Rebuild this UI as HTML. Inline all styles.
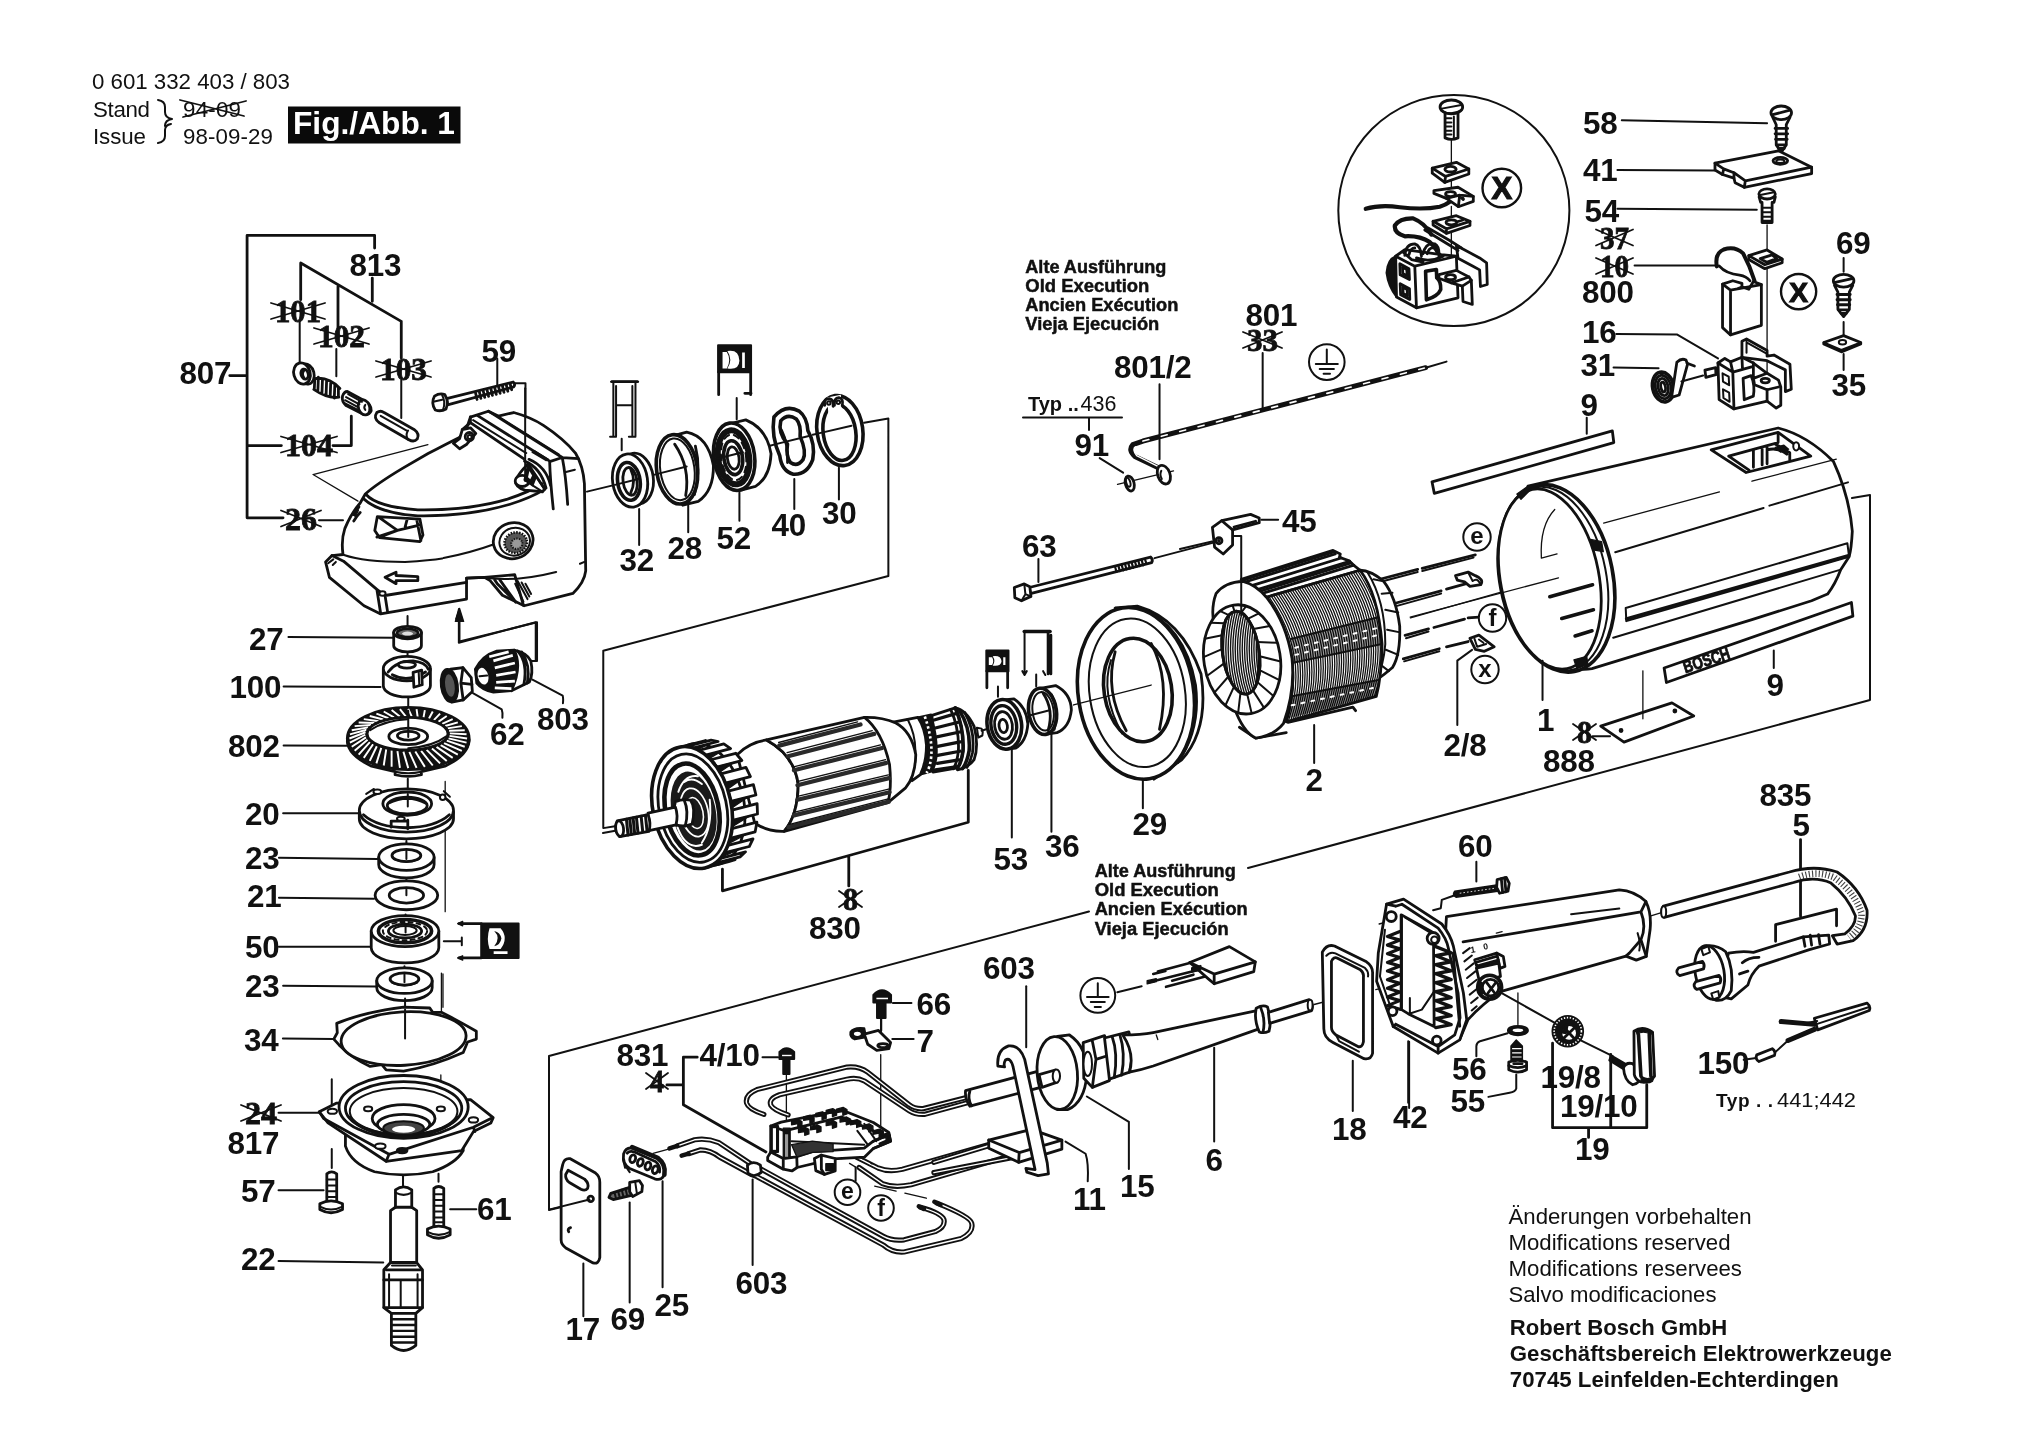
<!DOCTYPE html>
<html><head><meta charset="utf-8"><title>Fig./Abb. 1</title>
<style>
html,body{margin:0;padding:0;background:#fff;}
body{width:2042px;height:1444px;overflow:hidden;font-family:"Liberation Sans",sans-serif;}
svg{display:block;position:absolute;left:0;top:0;filter:blur(0.7px);}
svg text{font-family:"Liberation Sans",sans-serif;fill:#111;}
.b{font-weight:bold;font-size:31.4px;letter-spacing:-0.2px;}
.sb{font-family:"Liberation Serif",serif;font-weight:bold;font-size:31.5px;stroke:#111;stroke-width:0.8px;}
.s{stroke:#111;fill:none;stroke-linecap:round;stroke-linejoin:round;vector-effect:non-scaling-stroke;}
.f{stroke:#111;fill:#fff;stroke-linecap:round;stroke-linejoin:round;vector-effect:non-scaling-stroke;}
.k{stroke:#111;fill:#111;stroke-linejoin:round;vector-effect:non-scaling-stroke;}
.w1{stroke-width:1.3}.w2{stroke-width:2}.w3{stroke-width:2.8}.w4{stroke-width:3.6}
.x{stroke:#111;stroke-width:1.8;fill:none;stroke-linecap:round;}
</style></head><body>
<svg width="2042" height="1444" viewBox="0 0 2042 1444">
<rect x="0" y="0" width="2042" height="1444" fill="#fff"/>
<!-- 10_topleft.svg -->
<!-- brackets 807 / 813 (zoom1 coords, factor 3.003) -->
<g transform="scale(0.333)">
<path class="s w3" d="M742 1555 V707 H1125 V745 M1118 835 V905 M690 1128 H742 M742 1338 H845 M1000 1338 H1055 V1250 M742 1555 H850"/>
<path class="s w3" d="M903 790 L1205 965 M903 790 V900 M1015 860 V985 M1205 965 V1075"/>
<path class="s w2" d="M900 968 V1090 M1010 1048 V1130 M1205 1142 V1255 M958 1562 H1030"/>
<path class="s w1" d="M1285 1335 L940 1425 L1075 1505"/>
</g>
<!-- zoom2 coords -->
<g transform="translate(200,330) scale(0.25628)">
<!-- part 101 -->
<ellipse cx="415" cy="172" rx="30" ry="40" class="f w3" transform="rotate(-15 415 172)"/>
<ellipse cx="398" cy="170" rx="32" ry="42" class="f w3" transform="rotate(-15 398 170)"/>
<ellipse cx="408" cy="172" rx="14" ry="20" class="f w3" transform="rotate(-15 408 172)"/>
<path class="s w3" d="M405 158 q-10 12 0 28"/>
<!-- spring 102 -->
<path class="s w3" d="M448 190 l-2 40 M462 184 l-2 52 M478 190 l-2 54 M494 198 l-2 54 M510 206 l-2 54 M526 216 l-2 50 M540 226 l0 36 M446 190 Q500 180 546 228 M444 232 Q500 270 542 262"/>
<!-- sleeve 104 -->
<path class="f w3" d="M575 240 L640 275 Q670 290 668 315 Q660 335 635 328 L570 295 Q552 280 556 258 Q562 240 575 240Z"/>
<ellipse cx="640" cy="302" rx="22" ry="30" class="f w3" transform="rotate(-20 640 302)"/>
<path class="s w2" d="M578 250 L632 280 M570 262 L622 290 M566 274 L618 302 M566 286 L620 314 M645 292 q-8 10 0 20"/>
<!-- pin 103 -->
<path class="f w3" d="M690 322 Q705 312 718 322 L835 388 Q858 405 848 425 Q835 440 815 428 L700 362 Q675 345 690 322Z"/>
<path class="s w2" d="M812 392 Q800 410 812 428 M705 335 L810 395"/>
<!-- screw 59 -->
<path class="f w3" d="M962 268 L1222 203 Q1232 212 1224 222 L966 292Z"/>
<path class="s w3" d="M1075 245 l6 26 M1090 241 l6 26 M1105 237 l6 26 M1120 233 l6 26 M1135 229 l6 26 M1150 225 l6 26 M1165 221 l6 26 M1180 217 l6 26 M1195 213 l6 26 M1210 209 l6 24"/>
<path class="f w3" d="M915 258 Q935 245 955 252 Q972 280 960 308 Q940 320 918 312 Q900 285 915 258Z"/>
<path class="s w2" d="M910 280 L945 272 M945 255 Q960 282 948 312"/>
<path class="s w2" d="M1160 112 V215 M1228 208 H1270 V585"/>
</g>
<!-- 11_gearhousing.svg -->
<g transform="translate(200,330) scale(0.25628)">
<!-- outer silhouette -->
<path class="f w3" d="M1055 340 L1125 317 L1164 336 L1224 322 Q1290 340 1340 372 Q1420 425 1465 480 Q1495 530 1500 600 L1505 940 Q1500 985 1455 1028 L1265 1076 L1180 1035 L1132 978 L1110 965 L1040 968 L1040 1050 L705 1108 L640 1076 L505 965 L490 905 L515 880 L558 876 Q550 820 565 775 Q590 715 625 675 L645 640 Q690 600 790 540 L890 482 Q960 445 1010 420 Q1035 405 1040 385 Z"/>
<!-- opening rim -->
<path class="s w3" d="M648 642 Q690 690 850 702 Q1050 705 1200 660 Q1290 630 1335 600"/>
<path class="s w3" d="M640 660 Q700 715 850 725 Q1050 728 1210 680 Q1290 655 1345 622"/>
<!-- front window -->
<path class="s w3" d="M692 728 L858 738 L870 800 L858 826 L700 810 L682 782 Z M700 732 L770 782 L690 808 M770 782 L860 760 M808 740 L800 770 M846 742 L862 822 M770 782 L700 808"/>
<!-- nose -->
<path class="s w3" d="M598 720 Q612 705 620 690 M600 745 Q612 725 625 712"/>
<path class="k w1" d="M600 722 l14 -22 l4 4 l-12 24z"/>
<!-- waist line dashed -->
<path class="s w2" d="M562 878 Q640 905 800 905 Q900 900 945 892" />
<path class="s w2" stroke-dasharray="60 22" d="M950 890 Q1060 868 1150 835"/>
<path class="s w2" stroke-dasharray="70 25" d="M1120 968 Q1260 985 1440 930 L1500 905"/>
<!-- threaded hole -->
<ellipse cx="1222" cy="822" rx="78" ry="70" class="f w3" transform="rotate(-15 1222 822)"/>
<ellipse cx="1228" cy="826" rx="60" ry="54" class="f w2" transform="rotate(-15 1228 826)"/>
<ellipse cx="1232" cy="830" rx="44" ry="40" fill="#555" stroke="#111" stroke-width="10" stroke-dasharray="6 5" transform="rotate(-15 1232 830)" style="vector-effect:none"/>
<ellipse cx="1236" cy="834" rx="22" ry="20" fill="#999" stroke="#111" stroke-width="8" stroke-dasharray="5 5" transform="rotate(-15 1236 834)"/>
<!-- base plate -->
<path class="s w3" d="M515 880 L560 902 L690 1012 L722 1036 L1040 985 M690 1012 L705 1106 M722 1036 L732 1100"/>
<path class="s w2" d="M500 910 L520 895 M530 905 l-12 12"/>
<ellipse cx="712" cy="1028" rx="12" ry="9" class="f w2"/>
<!-- arrow -->
<path class="s w3" d="M722 965 L765 945 L765 958 L850 962 L850 978 L765 978 L765 990 Z"/>
<!-- notch right -->
<path class="s w3" d="M1040 968 L1110 965 M1110 965 L1228 955 L1262 1074 M1170 975 L1232 1062 M1150 975 L1160 990 L1225 1055"/>
<path class="s w2" d="M1230 990 L1262 1060 M1240 980 L1278 1050 M1255 985 L1285 1040 M1270 990 L1292 1030"/>
<path class="s w2" d="M1010 1090 V1220 H1010 M1010 1220 L1310 1140 V1290" />
<path class="k w1" d="M1010 1088 l-12 40 h24z"/>
</g>
<g transform="translate(420,390) scale(0.09004)">
<path class="s w3" d="M560 300 L560 362 L470 440 M640 285 L1440 790 M760 235 L1580 750 L1760 762 M1440 795 L1580 750 M1440 795 Q1445 1000 1480 1320 M1580 750 Q1620 950 1640 1270 M560 362 L1150 762"/>
<path class="s w2" d="M590 335 L1180 700 M880 300 L1540 715 M1620 910 L1720 885 M1250 690 L1400 780 M1270 680 L1420 770"/>
<path class="f w3" d="M470 440 L440 540 L370 592 L440 652 L520 602 L620 482 L560 420Z"/>
<circle cx="548" cy="518" r="46" class="f w3"/><circle cx="552" cy="522" r="22" class="s w2"/>
<path class="s w3" d="M1160 790 Q1340 860 1400 1090 M1210 770 Q1400 850 1450 1060"/>
<path class="f w3" d="M1200 822 L1385 1100 L1360 1130 L1165 1112 Q1060 1080 1060 1010 Q1090 930 1200 822Z"/>
<ellipse cx="1135" cy="1010" rx="78" ry="62" class="f w3"/>
<path class="k w2" d="M1200 830 L1290 960 L1250 1060 L1160 1000Z"/><path d="M1215 900 l30 50 l-20 40 l-25 -20z" fill="#fff"/>
<path class="s w2" d="M1290 960 L1380 1098 M1250 1060 L1360 1128"/>
<path class="s w2" d="M1168 -20 V1010"/>
</g>
<!-- 12_bearings.svg -->
<g transform="translate(580,320) scale(0.19394)">
<!-- axis line + box line -->
<path class="s w2" d="M36 885 L180 850 M375 800 L405 792 M680 722 L700 717 M980 648 L1010 640 M1200 592 L1225 586 M1465 530 L1590 508 V1320 L120 1705 V2620 L180 2610"/>
<!-- seal symbol over 32 -->
<path class="s w2" d="M160 318 H300 M172 318 V600 M186 340 V600 M270 340 V600 M286 318 V600 M186 440 H270 M155 602 H186 M252 602 H286"/>
<path class="s w3" d="M165 318 H295"/>
<path class="s w2" d="M215 612 V672"/>
<!-- part 32 -->
<ellipse cx="290" cy="818" rx="88" ry="132" class="f w3" transform="rotate(-8 290 818)"/>
<ellipse cx="258" cy="828" rx="90" ry="138" class="f w3" transform="rotate(-8 258 828)"/>
<ellipse cx="252" cy="832" rx="58" ry="98" class="f w4" transform="rotate(-8 252 832)"/>
<ellipse cx="258" cy="832" rx="36" ry="72" class="f w3" transform="rotate(-8 258 832)"/>
<path class="s w2" d="M180 850 L300 820"/>
<path class="s w3" d="M262 770 Q290 830 262 890"/>
<!-- part 28 -->
<path class="f w3" d="M470 600 L550 578 Q660 600 688 750 Q690 880 610 935 L530 955Z"/>
<ellipse cx="500" cy="770" rx="105" ry="180" class="f w4" transform="rotate(-8 500 770)"/>
<ellipse cx="502" cy="770" rx="88" ry="160" class="f w2" transform="rotate(-8 502 770)"/>
<path class="s w3" d="M488 640 Q570 760 545 905 M595 650 Q625 770 590 900"/>
<path class="s w2" d="M405 792 L550 755"/>
<!-- part 52 -->
<path class="f w3" d="M770 535 L855 515 Q965 560 985 690 Q980 810 905 858 L820 880Z"/>
<ellipse cx="795" cy="705" rx="105" ry="175" class="f w4" transform="rotate(-8 795 705)"/>
<ellipse cx="792" cy="708" rx="80" ry="140" class="s" stroke-width="6" transform="rotate(-8 792 708)"/>
<ellipse cx="792" cy="708" rx="64" ry="118" class="s w2" stroke-dasharray="6 5" transform="rotate(-8 792 708)"/>
<ellipse cx="790" cy="710" rx="48" ry="88" class="f w4" transform="rotate(-8 790 710)"/>
<ellipse cx="790" cy="712" rx="30" ry="58" class="f w3" transform="rotate(-8 790 712)"/>
<path class="s w2" d="M700 717 L840 682"/>
<!-- bearing symbol over 52 -->
<rect x="712" y="130" width="170" height="140" class="k w2"/>
<path d="M735 165 h22 q25 40 0 85 h-22z M760 160 q60 -10 62 50 q-2 50 -62 40 q30 -45 0 -90z M836 168 h14 v80 h-14z" fill="#fff"/>
<path class="s w3" d="M715 270 V385 M880 270 V385 M850 378 H882"/>
<path class="s w2" d="M808 402 V512"/>
<!-- part 40 wavy washer -->
<path class="f w4" d="M1000 500 Q1060 430 1130 470 Q1170 500 1175 570 Q1215 640 1200 720 Q1170 800 1100 795 Q1040 780 1030 700 Q985 600 1000 500Z"/>
<path class="f w4" d="M1035 520 Q1070 480 1115 510 Q1140 540 1135 600 Q1170 680 1150 720 Q1120 760 1085 735 Q1060 700 1070 640 Q1020 580 1035 520Z"/>
<path class="s w3" d="M1040 570 Q1075 640 1070 735"/>
<path class="s w2" d="M1010 640 L1180 598"/>
<!-- part 30 circlip -->
<ellipse cx="1340" cy="570" rx="118" ry="182" class="f w4" transform="rotate(-8 1340 570)"/>
<ellipse cx="1338" cy="580" rx="84" ry="145" class="f w4" transform="rotate(-8 1338 580)"/>
<path d="M1275 400 L1345 385 L1350 470 L1280 480Z" fill="#fff" stroke="none"/>
<path class="f w3" d="M1262 440 Q1255 405 1285 405 Q1310 410 1305 445 M1312 440 Q1308 402 1335 400 Q1360 405 1352 442"/>
<circle cx="1283" cy="428" r="9" class="s w2"/><circle cx="1332" cy="424" r="9" class="s w2"/>
<path class="s w2" d="M1225 586 L1400 545"/>
<!-- leaders -->
<path class="s w2" d="M305 975 V1160 M558 955 V1095 M822 890 V1035 M1105 820 V975 M1335 762 V925"/>
</g>
<!-- 13_armature.svg -->
<g transform="translate(600,690) scale(0.19589)">
<!-- bracket -->
<path class="s w3" d="M625 915 V1025 L1880 675 V410 M1270 850 V1000"/>
<path class="s w2" d="M15 730 L78 718"/>
<!-- commutator end (zoom L coords nested) -->
<g transform="translate(1327.3,-255.2) scale(0.56552)">
<path class="f w3" d="M860 612 Q960 630 1030 780 Q1075 950 1030 1080 Q980 1150 880 1172 Z"/>
<path class="f w2" d="M1055 792 L1098 800 Q1115 830 1105 862 L1068 880Z"/>
<path class="s w4" d="M900 640 Q1000 800 985 1000 Q965 1110 925 1160"/>
<path class="s w3" d="M945 655 Q1042 820 1015 1020 Q995 1100 965 1150"/>
<path class="f w3" d="M650 680 L860 612 Q940 800 930 1000 Q915 1110 880 1155 L660 1192Z"/>
<path class="s" stroke-width="3.2" d="M662 724 L872 662 M680 794 L888 742 M692 874 L900 830 M700 960 L905 920 M700 1042 L902 1004 M698 1114 L892 1082 M680 1172 L880 1142"/>
<path class="s w4" d="M860 612 Q940 800 930 1000 Q915 1110 880 1155"/>
<path class="s w3" d="M818 626 Q898 800 888 1000 Q876 1110 843 1162"/>
<path class="k w2" d="M520 700 L642 672 Q705 900 690 1060 Q680 1140 645 1188 L545 1215 Q600 1100 600 950 Q585 800 520 700Z"/>
<path d="M585 690 Q658 900 642 1060 Q632 1150 600 1200" stroke="#fff" stroke-width="24" stroke-dasharray="22 24" fill="none"/>
<path class="f w3" d="M300 742 L522 698 Q590 800 600 950 Q600 1100 545 1215 L470 1270Z"/>
<path class="s w2" d="M430 715 Q500 850 500 1000 Q495 1150 460 1250"/>
</g>
<!-- right winding head -->
<path class="f w3" d="M1350 140 Q1440 138 1510 168 Q1590 210 1612 330 Q1610 440 1560 500 L1470 575Z"/>
<!-- left winding head -->
<path class="f w3" d="M700 330 Q760 270 850 255 Q990 330 1012 480 Q1010 640 940 722 Q860 725 790 680Z"/>
<!-- stack -->
<path class="f w3" d="M850 255 L1350 140 Q1440 210 1478 380 Q1490 500 1470 575 L940 722 Q1010 640 1012 480 Q990 330 850 255Z"/>
<path class="s" stroke-width="4.2" style="stroke:#2a2a2a" d="M915 284 L1330 176 M960 338 L1400 224 M990 410 L1440 296 M1008 486 L1462 372 M1008 560 L1476 450 M990 640 L1478 522 M962 700 L1474 570"/>
<path class="s w1" d="M912 268 L1315 163 M955 320 L1390 208 M988 393 L1432 280 M1006 468 L1458 355 M1008 543 L1472 433 M994 623 L1478 505 M968 686 L1476 554"/>
<!-- fan -->
<path class="f w3" d="M420 297 L436 287 L452 280 L469 275 L486 273 L503 273 L521 275 L539 280 L557 287 L575 296 L593 307 L610 321 L626 336 L642 354 L657 373 L671 393 L684 416 L695 439 L706 464 L715 489 L723 515 L730 542 L735 569 L738 596 L740 623 L740 650 L739 676 L736 702 L732 726 L726 750 L719 772 L710 793 L700 812 L689 830 L676 845 L662 859 L648 870 L632 880 L616 887 L599 892 L582 894 L565 894 L547 892 L483 908 L356 313 Z"/>
<path class="f w3" d="M378 301 L506 268 L539 258 L411 291 Z"/>
<path class="k w1" d="M411 291 L499 268 L432 289 Z"/>
<path class="f w3" d="M439 289 L567 256 L603 263 L475 296 Z"/>
<path class="k w1" d="M475 296 L563 273 L497 305 Z"/>
<path class="f w3" d="M504 308 L632 275 L667 299 L539 332 Z"/>
<path class="k w1" d="M539 332 L627 309 L559 349 Z"/>
<path class="f w3" d="M565 356 L693 323 L724 360 L596 393 Z"/>
<path class="k w1" d="M596 393 L684 370 L612 419 Z"/>
<path class="f w3" d="M617 428 L745 395 L768 442 L640 475 Z"/>
<path class="k w1" d="M640 475 L728 452 L651 506 Z"/>
<path class="f w3" d="M655 516 L783 483 L796 536 L668 569 Z"/>
<path class="k w1" d="M668 569 L756 546 L673 602 Z"/>
<path class="f w3" d="M674 613 L802 580 L804 633 L676 666 Z"/>
<path class="k w1" d="M676 666 L764 643 L675 698 Z"/>
<path class="f w3" d="M673 708 L801 675 L792 724 L664 757 Z"/>
<path class="k w1" d="M664 757 L752 734 L656 784 Z"/>
<path class="f w3" d="M653 793 L781 760 L762 799 L634 832 Z"/>
<path class="k w1" d="M634 832 L722 809 L620 853 Z"/>
<path class="f w3" d="M615 859 L743 826 L715 852 L587 885 Z"/>
<path class="k w1" d="M587 885 L675 862 L568 896 Z"/>
<path class="f w3" d="M562 899 L690 866 L657 876 L529 909 Z"/>
<path class="k w1" d="M529 909 L617 886 L508 911 Z"/>
<ellipse cx="470" cy="600" rx="200" ry="315" class="f w4" transform="rotate(-12 470 600)"/>
<ellipse cx="474" cy="603" rx="172" ry="280" class="f w3" transform="rotate(-12 474 603)"/>
<ellipse cx="470" cy="610" rx="135" ry="238" class="f" stroke-width="4.6" transform="rotate(-12 470 610)"/>
<ellipse cx="478" cy="618" rx="112" ry="205" fill="#1a1a1a" transform="rotate(-12 478 618)"/>
<path d="M400 520 Q430 430 500 440 M395 700 Q440 820 520 790 M520 780 Q575 700 560 560 M430 470 Q470 440 520 480" stroke="#fff" stroke-width="10" fill="none" stroke-linecap="round"/>
<ellipse cx="482" cy="625" rx="70" ry="125" fill="none" stroke="#fff" stroke-width="9" transform="rotate(-12 482 625)"/>
<ellipse cx="484" cy="628" rx="42" ry="80" fill="none" stroke="#fff" stroke-width="8" transform="rotate(-12 484 628)"/>
<!-- shaft -->
<path class="f w3" d="M385 570 Q420 555 462 562 Q490 600 470 685 Q430 700 392 690 Q365 640 385 570Z"/>
<path class="s w3" d="M430 562 Q455 620 435 695"/>
<path class="f w3" d="M245 628 L385 598 Q400 640 388 688 L250 718Z"/>
<path class="f w3" d="M88 668 L245 636 Q262 680 250 722 L100 748 Q70 710 88 668Z"/>
<ellipse cx="100" cy="708" rx="20" ry="40" class="f w3" transform="rotate(-8 100 708)"/>
<path class="s" stroke-width="3" d="M135 660 l8 80 M152 657 l8 80 M169 653 l8 80 M186 650 l8 80 M210 645 l8 78 M232 640 l8 78"/>
</g>
<!-- 14_stator.svg -->
<g transform="translate(1180,500) scale(0.18008)">
<defs><clipPath id="stbody"><path d="M480 540 L1000 390 Q1100 520 1122 800 Q1120 980 1090 1090 L590 1232 Q640 1060 622 880 Q590 680 480 540Z"/></clipPath></defs>
<path class="s w1" d="M1280 655 L1900 478"/>
<path class="s w3" d="M1110 440 L1320 385 M1345 380 L1640 305 M1200 572 L1450 505 M1480 495 L1600 462 M1250 752 L1380 716 M1410 708 L1580 662 M1600 655 L1660 650 M1240 882 L1440 826 M1480 816 L1600 786"/>
<path class="s w2" d="M1110 455 L1320 400 M1345 394 L1630 320 M1205 588 L1450 520 M1255 768 L1380 730 M1245 896 L1440 840"/>
<path class="f w3" d="M1530 420 L1600 400 L1640 420 Q1690 440 1670 470 L1610 480 L1580 455 L1540 445Z"/><path class="s w2" d="M1600 402 L1625 450 M1625 450 Q1650 430 1665 462"/>
<path class="f w3" d="M1610 768 L1660 750 L1745 815 L1690 840 L1640 830Z"/><path class="s w2" d="M1635 770 L1650 815 L1700 800 M1660 775 l25 18"/>
<path class="s w2" d="M1540 1250 V892 L1622 832 M745 1250 V1460"/>
<path class="f w3" d="M1000 390 Q1060 392 1130 450 Q1200 540 1220 700 Q1225 860 1180 930 Q1140 965 1090 1000 L1060 700Z"/>
<path class="s w2" d="M1075 440 L1130 452 M1120 520 L1180 515 M1140 610 L1212 625 M1150 720 L1222 735 M1140 830 L1212 860 M1120 920 L1160 950 M1040 400 Q1140 560 1140 800 Q1130 920 1090 1000"/>
<path class="f w3" d="M340 440 L850 280 L890 300 L885 318 L940 338 L962 360 L1000 390 L480 540 Z"/>
<path class="s w3" d="M352 458 L862 300 M385 480 L895 322 M430 498 L942 340 M452 520 L965 362"/>
<path class="s w3" d="M345 446 L855 288 M440 508 L950 350"/>
<path class="f w3" d="M480 540 L1000 390 Q1100 520 1122 800 Q1120 980 1090 1090 L590 1232 Q640 1060 622 880 Q590 680 480 540Z"/>
<g clip-path="url(#stbody)">
<path class="s" stroke-width="1.3" d="M480 540 Q710 866 590 1232 M493 536 Q723 862 602 1228 M506 532 Q736 859 615 1225 M519 529 Q748 855 628 1221 M532 525 Q761 851 640 1218 M545 521 Q774 848 652 1214 M558 518 Q786 844 665 1211 M571 514 Q799 840 678 1207 M584 510 Q812 837 690 1204 M597 506 Q825 833 702 1200 M610 502 Q838 830 715 1196 M623 499 Q850 826 728 1193 M636 495 Q863 822 740 1189 M649 491 Q876 819 752 1186 M662 488 Q888 815 765 1182 M675 484 Q901 811 778 1179 M688 480 Q914 808 790 1175 M701 476 Q927 804 802 1172 M714 472 Q940 800 815 1168 M727 469 Q952 797 828 1165 M740 465 Q965 793 840 1161 M753 461 Q978 789 852 1157 M766 458 Q990 786 865 1154 M779 454 Q1003 782 878 1150 M792 450 Q1016 778 890 1147 M805 446 Q1029 775 902 1143 M818 442 Q1042 771 915 1140 M831 439 Q1054 767 928 1136 M844 435 Q1067 764 940 1133 M857 431 Q1080 760 952 1129 M870 428 Q1092 756 965 1126 M883 424 Q1105 753 978 1122 M896 420 Q1118 749 990 1118 M909 416 Q1131 746 1002 1115 M922 412 Q1144 742 1015 1111 M935 409 Q1156 738 1028 1108 M948 405 Q1169 735 1040 1104 M961 401 Q1182 731 1052 1101 M974 398 Q1194 727 1065 1097 M987 394 Q1207 724 1078 1094 M1000 390 Q1220 720 1090 1090"/>
<path d="M615 772 L1112 648 L1122 800 L622 905Z" fill="#000" fill-opacity="0.38"/>
<path d="M606 1092 L1102 1000 L1092 1085 L592 1215Z" fill="#000" fill-opacity="0.38"/>
<path class="s w2" d="M615 772 L1112 648 M622 905 L1122 800 M606 1092 L1102 1000"/>
<path class="s w2" style="stroke:#fff" stroke-dasharray="3 7" d="M640 820 L1100 710 M640 860 L1100 750 M620 1140 L1090 1040"/>
</g>
<path class="s w3" d="M330 1262 L420 1322 L590 1292 M380 1240 L440 1290 M600 1235 L960 1150 L975 1170"/>
<path class="f w3" d="M350 452 Q250 455 200 520 Q170 600 190 700 L300 1150 Q350 1290 420 1322 Q520 1310 575 1240 Q640 1060 622 880 Q590 680 480 540 Q420 470 350 452Z"/>
<ellipse cx="345" cy="885" rx="212" ry="305" class="f w3" transform="rotate(-9 345 885)"/>
<path class="s w2" d="M559 897 L443 868 M552 1000 L442 945 M519 1089 L429 1011 M466 1153 L405 1057 M398 1185 L373 1077 M323 1181 L336 1070 M252 1141 L300 1036 M191 1070 L269 980 M149 977 L245 907 M131 873 L233 828 M138 770 L234 751 M171 681 L247 685 M224 617 L271 639 M292 585 L303 619 M367 589 L340 626 M438 629 L376 660 M499 700 L407 716 M541 793 L431 789"/>
<defs><clipPath id="stopen"><ellipse cx="338" cy="848" rx="102" ry="232" transform="rotate(-8 338 848)"/></clipPath></defs>
<ellipse cx="338" cy="848" rx="102" ry="232" class="f w3" transform="rotate(-8 338 848)"/>
<g clip-path="url(#stopen)"><path class="s" stroke-width="1.4" d="M260 600 Q190 850 275 1100 M273 600 Q203 850 288 1100 M286 600 Q216 850 301 1100 M299 600 Q229 850 314 1100 M312 600 Q242 850 327 1100 M325 600 Q255 850 340 1100 M338 600 Q268 850 353 1100 M351 600 Q281 850 366 1100 M364 600 Q294 850 379 1100 M377 600 Q307 850 392 1100 M390 600 Q320 850 405 1100 M403 600 Q333 850 418 1100 M416 600 Q346 850 431 1100 M429 600 Q359 850 444 1100 M442 600 Q372 850 457 1100 M455 600 Q385 850 470 1100 M468 600 Q398 850 483 1100"/><path class="f w2" d="M395 600 Q470 850 410 1100 L520 1100 L520 600Z"/></g>
<ellipse cx="338" cy="848" rx="102" ry="232" class="s w3" transform="rotate(-8 338 848)"/>
<path class="f w3" d="M180 152 L232 115 L392 80 L440 100 L440 126 L292 166 L292 250 L240 300 L192 262Z"/>
<path class="s w3" d="M232 115 L292 166 M300 150 L420 118"/><circle cx="216" cy="226" r="17" class="f w3"/><circle cx="216" cy="226" r="6" class="k w1"/>
<path class="s w2" d="M452 110 H545 M300 200 H340 V640 M0 272 L178 230"/>
</g>
<!-- 15_baffle.svg -->
<g transform="translate(960,480) scale(0.27706)">
<!-- bolt 63 -->
<path class="f w3" d="M250 388 L688 278 Q698 288 692 298 L254 410Z"/>
<path class="s" stroke-width="2.2" d="M560 314 l5 18 M572 311 l5 18 M584 308 l5 18 M596 305 l5 18 M608 302 l5 18 M620 299 l5 18 M632 296 l5 18 M644 293 l5 18 M656 290 l5 18 M668 287 l5 16"/>
<path class="f w3" d="M196 388 L232 375 L252 385 L256 420 L222 436 L198 425Z"/>
<path class="s w2" d="M232 375 L236 412 L222 436 M236 412 L256 420"/>
<path class="s w2" d="M283 285 V368 M702 282 L915 226"/>
<!-- baffle 29 -->
<path class="f w3" d="M560 462 L640 455 Q800 500 870 700 Q900 900 800 1010 L700 1080Z"/>
<path class="s w3" d="M612 462 Q790 520 825 740 Q845 900 760 1030 M640 458 Q810 520 850 740 Q870 900 785 1020"/>
<ellipse cx="635" cy="770" rx="208" ry="312" class="f w4" transform="rotate(-9 635 770)"/>
<ellipse cx="640" cy="768" rx="172" ry="270" class="f w2" transform="rotate(-9 640 768)"/>
<ellipse cx="642" cy="758" rx="122" ry="188" class="f w4" transform="rotate(-9 642 758)"/>
<path class="s w3" d="M560 620 Q520 760 600 905 M690 590 Q760 720 720 900"/>
<path class="s w2" d="M545 650 Q505 770 585 915"/>
<path class="s w1" d="M410 812 L690 740"/>
<path class="s w2" d="M660 1078 V1185"/>
<!-- ring 36 -->
<path class="f w3" d="M290 752 L345 742 Q400 770 402 830 Q395 895 350 912 L305 918Z"/>
<ellipse cx="298" cy="835" rx="50" ry="84" class="f w4" transform="rotate(-8 298 835)"/>
<ellipse cx="300" cy="835" rx="38" ry="70" class="f w2" transform="rotate(-8 300 835)"/>
<path class="s w3" d="M300 770 Q340 830 318 905 M330 775 Q360 835 340 900"/>
<path class="s w2" d="M250 850 L320 832 M330 915 V1270"/>
<!-- seal symbol over 36 -->
<path class="s w4" d="M232 547 H325"/>
<path class="s w2" d="M233 547 V700 M225 690 l8 14 l8 -14 M275 702 V745 M300 690 l8 14"/>
<path class="s w3" d="M318 547 V700 M328 560 V700"/>
<!-- bearing 53 -->
<path class="f w3" d="M150 795 L195 790 Q240 820 245 880 Q240 945 200 968 L165 972Z"/>
<ellipse cx="160" cy="882" rx="62" ry="90" class="f w4" transform="rotate(-8 160 882)"/>
<ellipse cx="158" cy="884" rx="46" ry="70" class="s" stroke-width="3.4" transform="rotate(-8 158 884)"/>
<ellipse cx="157" cy="886" rx="32" ry="50" class="f w3" transform="rotate(-8 157 886)"/>
<ellipse cx="156" cy="888" rx="15" ry="24" class="f w3" transform="rotate(-8 156 888)"/>
<path class="s w2" d="M187 972 V1290 M137 745 V782 M78 905 L100 898"/>
<!-- bearing symbol over 53 -->
<rect x="95" y="615" width="80" height="75" class="k w2"/>
<path d="M104 640 h12 q8 14 0 28 h-12z M118 636 q30 -4 32 18 q-2 20 -32 16 q12 -17 0 -34z M156 640 h8 v28 h-8z" fill="#fff"/>
<path class="s w3" d="M97 690 V750 M172 690 V750"/>
</g>
<!-- 16_motorhousing.svg -->
<!-- long box line (full coords) -->
<path class="s w2" d="M1852 498 L1870 495 V700 L1248 868 M1089 911.5 L549 1056 V1210 L595 1199"/>
<g transform="translate(1400,380) scale(0.29087)">
<!-- strip 9 top -->
<path class="f w3" d="M110 350 L730 175 L735 215 L118 390Z"/>
<path class="s w2" d="M642 130 V185"/>
<!-- housing body -->
<path class="f w3" d="M440 365 L1300 165 Q1400 190 1490 280 Q1545 400 1555 520 Q1552 580 1544 608 L1515 652 Q1497 700 1470 736 L1415 759 L1210 824 L660 992 Q560 1010 480 900 L380 560Z"/>
<!-- top window -->
<path class="f w3" d="M1070 240 L1300 180 L1412 262 L1190 318Z"/>
<path class="s w3" d="M1130 262 L1300 215 L1300 182 M1130 262 L1200 310 M1215 240 V300 M1245 232 V292 M1262 228 V288 M1290 220 L1340 250 L1340 275 M1262 240 Q1300 230 1330 255"/>
<path class="k w1" d="M1290 232 l30 -8 l16 14 l-28 10z"/>
<ellipse cx="1362" cy="228" rx="10" ry="14" class="f w2"/>
<!-- body lines -->
<path class="s w1" stroke-dasharray="120 14 20 14" d="M700 492 L1130 376 M1210 348 L1500 272"/>
<path class="s w2" d="M740 592 L1250 440 M1270 432 L1540 352"/>
<path class="s w2" d="M733 886 L1515 652"/>
<path class="s w2" d="M776 784 L1538 561 L1544 608 L778 829 Z"/>
<path class="s" stroke-width="3.4" d="M779 821 L1542 604"/>
<!-- rim ellipses -->
<ellipse cx="538" cy="682" rx="194" ry="326" class="f w4" transform="rotate(-11 538 682)"/>
<ellipse cx="527" cy="683" rx="182" ry="320" class="s w2" transform="rotate(-11 527 683)"/>
<ellipse cx="515" cy="684" rx="169" ry="314" class="f w3" transform="rotate(-11 515 684)"/>
<path class="k w1" d="M402 392 l34 -24 l10 12 l-30 30z M655 548 l38 8 l6 34 l-36 -6z M598 962 l44 -12 l4 28 l-38 14z"/>
<!-- inside -->
<path class="s w1" d="M486 612 Q480 500 532 445 M486 612 L540 598"/>
<path class="s w4" d="M515 745 L662 704 M556 820 L665 790 M602 880 L660 862"/>
<path class="s w1" d="M35 815 L545 680"/>
<!-- strip 9 bottom w/ BOSCH -->
<path class="f w3" d="M908 990 L1552 765 L1557 812 L916 1040Z"/>
<text x="981" y="1008" font-size="60" font-weight="bold" transform="rotate(-17.7 981 1008)" style="fill:#111;stroke:#111;stroke-width:3px" textLength="166" lengthAdjust="spacingAndGlyphs">BOSCH</text>
<path class="s w2" d="M1285 930 V990 M490 965 V1100"/>
<!-- plate 888 -->
<path class="f w3" d="M690 1190 L935 1110 L1010 1155 L770 1245Z"/>
<circle cx="760" cy="1205" r="6" class="k w1"/><circle cx="945" cy="1138" r="6" class="k w1"/>
<path class="s w1" d="M835 1000 V1165"/>
<path class="s w2" d="M662 1225 L722 1225"/>
</g>
<!-- 17_brushdetail.svg -->
<!-- circle detail, zoom C coords -->
<g transform="translate(1330,90) scale(0.16625)">
<circle cx="745" cy="725" r="695" class="f w2"/>
<!-- screw -->
<path class="f w3" d="M692 130 V288 Q730 305 770 288 V130Z"/>
<path class="s w2" d="M700 170 h30 M700 195 h30 M700 220 h30 M700 245 h30 M700 268 h30 M745 160 V285"/>
<ellipse cx="730" cy="102" rx="68" ry="42" class="f w3"/>
<path class="s w2" d="M672 112 L790 90 M668 122 Q730 160 792 120"/>
<path class="s w1" d="M730 302 V440 M730 520 V600 M730 700 V770 M730 862 V1120"/>
<!-- washer 1 -->
<path class="f w3" d="M615 470 L760 435 L835 475 L835 505 L690 556 L615 500Z"/>
<path class="s w3" d="M615 470 L695 520 L835 475 M695 520 L690 556"/>
<ellipse cx="725" cy="476" rx="34" ry="17" class="f w3"/>
<!-- wire 1 -->
<path class="s" stroke-width="4.2" d="M215 715 Q300 688 420 705 Q560 722 660 702 Q700 690 722 672"/>
<!-- terminal plate 2 -->
<path class="f w3" d="M625 605 L770 585 L862 640 L862 670 L772 702 L700 652 L625 622Z"/>
<path class="s w3" d="M700 652 L780 632 L862 640 M780 632 L772 702"/>
<ellipse cx="725" cy="626" rx="30" ry="15" class="f w3"/>
<path class="k w1" d="M785 650 q10 -10 20 0 q6 10 -4 14z"/>
<!-- washer 3 -->
<path class="f w3" d="M620 790 L760 756 L842 790 L842 815 L700 862 L620 812Z"/>
<path class="s w3" d="M620 790 L700 835 L842 790 M700 835 L700 862 M740 800 L800 782"/>
<ellipse cx="730" cy="796" rx="32" ry="15" class="f w3"/>
<!-- wire loop 2 -->
<path class="s" stroke-width="4.2" d="M610 870 Q570 800 500 772 Q420 770 390 815 Q385 860 450 880 Q540 875 600 915 Q650 960 660 1010"/>
<!-- back plate -->
<path class="f w3" d="M760 935 L900 1010 L942 1040 L946 1170 L905 1182 L900 1082 L860 1060 L770 1012Z"/>
<path class="s w3" d="M570 842 L700 922 L770 965 M590 830 L720 905 L790 950"/>
<!-- box -->
<path class="k w2" d="M395 1000 Q345 1020 340 1100 Q350 1180 400 1245 Z"/>
<path class="f w3" d="M395 1000 L450 960 L670 990 L760 1000 L770 1250 L520 1310 L400 1245Z"/>
<path class="s w3" d="M395 1000 L510 1060 L520 1310 M510 1060 L760 1000"/>
<path class="f w3" d="M420 1045 L475 1075 L478 1140 L422 1112Z M422 1165 L478 1195 L480 1260 L425 1232Z"/>
<path class="s w3" d="M436 1066 L462 1080 L464 1118 L438 1104Z M438 1186 L464 1200 L466 1238 L440 1224Z"/>
<!-- spring arcs on top -->
<path class="s w3" d="M450 995 Q455 925 510 925 Q545 935 550 1000 M475 990 Q485 950 510 950 M560 985 Q575 915 630 925 Q660 940 655 1005 M585 985 Q595 945 625 950 M520 1010 Q600 1040 680 1000 M440 975 L490 1020 L560 1035"/>
<!-- D cutout -->
<path class="s w4" d="M575 1090 L640 1080 L642 1130 Q668 1150 666 1200 Q650 1240 580 1262Z"/>
<!-- tab with hole -->
<path class="f w3" d="M655 1110 L760 1085 L836 1125 L850 1145 L856 1290 L800 1272 L796 1180 L730 1160 L655 1132Z"/>
<path class="s w3" d="M836 1125 L730 1160 M796 1180 L850 1145"/>
<ellipse cx="725" cy="1126" rx="30" ry="15" class="f w3"/>
</g>
<!-- right column, zoom D coords -->
<g transform="translate(1630,90) scale(0.22847)">
<!-- leaders -->
<path class="s w2" d="M-36 132 L600 145 M-55 350 L370 352 M-55 520 L555 524 M20 768 L375 768 M-60 1068 L205 1070 L385 1175 M-72 1215 L125 1218"/>
<path class="s w1" d="M600 590 V735 M600 778 V1265 M662 270 V310"/>
<!-- screw 58 -->
<path class="f w3" d="M625 120 L640 152 V240 L662 272 L684 240 V152 L700 120Z"/>
<path class="s w3" d="M635 168 H690 M635 192 H690 M637 216 H688 M642 240 H682 M650 256 H675"/>
<ellipse cx="662" cy="100" rx="45" ry="30" class="f w3"/>
<path class="s w3" d="M625 108 L700 88"/>
<!-- plate 41 -->
<path class="f w3" d="M372 320 L650 266 L795 338 L795 366 L500 426 L460 406 L455 386 L405 370 L372 350Z"/>
<path class="s w3" d="M372 320 L410 345 L405 370 M410 345 L455 362 L505 398 L795 338 M505 398 L500 426 M455 362 L455 386"/>
<ellipse cx="658" cy="310" rx="32" ry="15" class="f w3"/>
<ellipse cx="658" cy="312" rx="18" ry="8" class="s w2"/>
<!-- screw 54 -->
<path class="f w3" d="M565 468 L572 492 H578 V580 H622 V492 H630 L636 468Z"/>
<path class="s w2" d="M584 515 H616 M584 535 H616 M584 555 H616 M584 572 H616"/>
<ellipse cx="600" cy="455" rx="36" ry="22" class="f w3"/>
<path class="s w2" d="M570 460 L630 448"/>
<!-- terminal + wire -->
<path class="s" stroke-width="4" d="M380 772 Q370 715 410 698 Q460 682 495 715 Q525 770 545 835"/>
<path class="s w3" d="M390 770 Q420 805 480 810 Q510 815 525 835"/>
<path class="f w3" d="M520 725 L600 700 L666 740 L666 756 L590 782 L520 742Z"/>
<path class="s w3" d="M570 738 L622 722 L642 738 L598 754Z M520 725 L590 765 L666 740"/>
<!-- brush 800 -->
<path class="f w3" d="M405 850 L450 835 L490 846 L490 862 L520 872 L540 838 L575 852 L575 1030 L440 1072 L405 1040Z"/>
<path class="s w3" d="M405 850 L440 876 L575 852 M440 876 V1072 M490 862 L470 870"/>
<!-- holder 16 -->
<path class="f w3" d="M490 1100 L510 1090 L600 1140 L600 1165 L630 1160 L700 1200 L706 1310 L680 1320 L680 1225 L600 1185 L490 1170Z"/>
<path class="s w2" d="M510 1090 V1150 M510 1105 L600 1155"/>
<path class="f w3" d="M385 1195 L415 1175 L440 1190 L490 1170 L540 1195 L600 1240 L650 1270 L660 1300 L660 1380 L640 1392 L600 1362 L455 1396 L390 1355Z"/>
<path class="s w3" d="M385 1195 L450 1235 L455 1396 M450 1235 L540 1210 M440 1190 L450 1235 M490 1170 L492 1215 M540 1195 L540 1262 L600 1240 M540 1262 L545 1290 L600 1312 L650 1300 M600 1312 V1362"/>
<path class="f w2" d="M405 1240 L432 1255 L434 1292 L407 1276Z M407 1310 L434 1325 L436 1365 L409 1348Z"/>
<path class="s w3" d="M495 1262 L530 1250 Q548 1290 540 1340 L500 1356Z"/>
<ellipse cx="592" cy="1272" rx="18" ry="10" class="f w3"/>
<!-- spring 31 -->
<ellipse cx="145" cy="1300" rx="46" ry="66" class="f w4" transform="rotate(-12 145 1300)"/>
<ellipse cx="145" cy="1300" rx="34" ry="52" class="s w3" transform="rotate(-12 145 1300)"/>
<ellipse cx="145" cy="1300" rx="22" ry="38" class="s w3" transform="rotate(-12 145 1300)"/>
<ellipse cx="145" cy="1300" rx="10" ry="22" class="s w3" transform="rotate(-12 145 1300)"/>
<path class="f w3" d="M182 1345 L205 1192 Q225 1172 245 1182 L252 1200 L215 1335Z"/>
<path class="s w3" d="M250 1196 L282 1208"/>
<path class="s w2" d="M225 1276 L320 1250"/>
<path class="f w3" d="M328 1226 L375 1215 L376 1246 L332 1258Z"/>
<!-- screw 69 -->
<path class="s w2" d="M935 735 V795 M935 1015 V1075 M935 1155 V1225"/>
<path class="f w3" d="M895 855 L910 885 V960 L935 992 L960 960 V885 L975 855Z"/>
<path class="s w3" d="M906 895 H964 M906 918 H964 M908 940 H962 M914 962 H956 M924 978 H946"/>
<ellipse cx="935" cy="835" rx="45" ry="28" class="f w3"/>
<path class="s w3" d="M898 842 L972 826"/>
<!-- nut 35 -->
<path class="f w3" d="M848 1105 L935 1075 L1010 1105 L1010 1112 L925 1146 L848 1112Z"/>
<path class="s w2" d="M848 1105 L925 1138 L1010 1105"/>
<ellipse cx="930" cy="1104" rx="16" ry="10" class="f w2"/>
</g>
<!-- 18_left1.svg -->
<g transform="translate(330,600) scale(0.13848)">
<path class="s w2" d="M935 120 V300 L1495 160 V440 H1455"/>
<path class="k w1" d="M935 60 L905 155 H965Z"/>
<path class="s w2" d="M560 115 V190 M560 385 V470 M565 700 V800"/>
<path class="f w3" d="M460 235 V330 A100 45 0 0 0 660 330 V235Z"/>
<ellipse cx="560" cy="235" rx="100" ry="45" class="f w3"/>
<ellipse cx="560" cy="238" rx="76" ry="30" fill="#666" stroke="#111" stroke-width="2.5" style="vector-effect:non-scaling-stroke"/>
<ellipse cx="560" cy="242" rx="40" ry="14" fill="#ddd"/>
<path class="s w2" d="M-300 268 L455 272"/>
<path class="f w3" d="M385 500 V620 A170 80 0 0 0 725 620 V500Z"/>
<ellipse cx="555" cy="495" rx="170" ry="88" class="f w3"/>
<path class="s w3" d="M420 520 Q480 440 600 440 Q690 450 710 500 M450 540 Q560 600 690 520"/>
<ellipse cx="555" cy="468" rx="62" ry="24" class="f w3"/>
<path class="f w3" d="M600 522 L662 506 L666 612 L606 630Z"/><path class="s w2" d="M640 512 L645 615"/>
<path class="s w2" d="M-335 625 L365 628"/>
<path class="f w3" d="M125 1020 Q130 1120 300 1200 L470 1240 V1262 Q565 1285 660 1262 V1240 L830 1200 Q1000 1120 1005 1010Z"/>
<ellipse cx="565" cy="1000" rx="440" ry="225" class="k w3"/>
<path d="M990 1000 L863 981 M986 1030 L856 999 M973 1060 L843 1016 M952 1089 L823 1033 M923 1116 L799 1048 M886 1140 L769 1061 M843 1162 L736 1073 M795 1180 L698 1082 M742 1195 L658 1089 M685 1205 L616 1094 M625 1212 L573 1096 M565 1214 L530 1095 M505 1212 L487 1092 M445 1205 L445 1087 M388 1195 L406 1079 M335 1180 L370 1068 M287 1162 L338 1056 M244 1140 L311 1042 M207 1116 L288 1026 M178 1089 L271 1009 M157 1060 L260 992 M144 1030 L255 973 M140 1000 L257 955 M144 970 L264 937 M157 940 L277 920 M178 911 L297 903 M207 884 L321 888 M244 860 L351 875 M287 838 L384 863 M335 820 L422 854 M388 805 L462 847 M445 795 L504 842 M505 788 L547 840 M565 786 L590 841 M625 788 L633 844 M685 795 L675 849 M742 805 L714 857 M795 820 L750 868 M843 838 L782 880 M886 860 L809 894 M923 884 L832 910 M952 911 L849 927 M973 940 L860 944 M986 970 L865 963" stroke="#fff" stroke-width="14" fill="none" stroke-linecap="butt"/>
<ellipse cx="560" cy="965" rx="292" ry="118" class="f w3"/>
<path class="s w2" d="M290 940 Q400 870 560 862 M840 985 Q740 1060 565 1070"/>
<ellipse cx="565" cy="985" rx="140" ry="60" class="f w3"/>
<ellipse cx="565" cy="980" rx="78" ry="32" class="f w3"/>
<path class="s w2" d="M565 800 V990 M-335 1050 L120 1052"/>
<path class="s w2" d="M470 1240 Q565 1262 660 1240"/>
<path class="f w3" d="M870 500 L960 488 L1020 560 L1028 660 L962 722 L880 738Z"/>
<path class="s w3" d="M960 488 L945 600 L962 722 M945 600 L1025 610"/>
<ellipse cx="862" cy="618" rx="58" ry="118" class="k w3" transform="rotate(-8 862 618)"/>
<ellipse cx="866" cy="618" rx="34" ry="82" fill="#555" transform="rotate(-8 866 618)"/>
<path class="s w2" d="M1032 672 L1240 790 Q1248 810 1245 850"/>
<path class="f w3" d="M1330 362 Q1420 380 1450 440 Q1470 530 1440 592 L1310 655 L1280 400Z"/>
<path class="s w3" d="M1355 368 Q1430 450 1400 610 M1385 375 Q1450 470 1425 600"/>
<path class="k w3" d="M1050 500 Q1100 400 1200 370 L1330 362 Q1390 480 1310 655 L1180 665 Q1100 650 1060 600Z"/>
<path d="M1180 440 L1320 400 M1190 490 L1335 455 M1200 545 L1340 520 M1200 595 L1335 585 M1190 635 L1310 640 M1150 410 L1290 375" stroke="#fff" stroke-width="20" fill="none"/>
<ellipse cx="1105" cy="550" rx="48" ry="72" class="f w3" transform="rotate(-15 1105 550)"/>
<path class="s w2" d="M1080 550 L1135 545 M1462 575 L1680 690 Q1686 710 1682 745"/>
</g>
<!-- 19_left2.svg -->
<g transform="translate(200,600) scale(0.27705)">
<!-- long thin vertical line -->
<path class="s w1" d="M885 655 V1125 M877 1350 V1470"/>
<!-- axis pieces -->
<path class="s w2" d="M750 645 V700 M745 870 V905 M745 1005 V1045 M742 1135 V1170 M738 1322 V1350"/>
<!-- 20 flange -->
<path class="f w3" d="M575 765 V790 A170 72 0 0 0 915 790 V765Z"/>
<ellipse cx="745" cy="760" rx="170" ry="78" class="f w3"/>
<path class="s w3" d="M590 775 Q640 820 745 822 Q850 820 900 775"/>
<ellipse cx="748" cy="735" rx="88" ry="42" class="f w3"/>
<ellipse cx="748" cy="742" rx="72" ry="30" class="f w3"/>
<path class="s w2" d="M680 735 Q750 700 815 735 M750 700 V745"/>
<ellipse cx="640" cy="692" rx="14" ry="8" class="f w2"/><ellipse cx="876" cy="712" rx="10" ry="10" class="f w2"/><ellipse cx="725" cy="790" rx="14" ry="8" class="f w2"/>
<path class="s w3" d="M690 798 V820 M750 795 V826 M690 798 H750"/>
<path class="s w2" d="M600 700 l28 -18 M880 690 l22 20"/>
<path class="s w2" d="M300 770 H572"/>
<!-- 23 upper -->
<path class="f w3" d="M645 930 V955 A100 48 0 0 0 845 955 V930Z"/>
<ellipse cx="745" cy="928" rx="100" ry="48" class="f w3"/>
<ellipse cx="745" cy="922" rx="52" ry="22" class="f w3"/>
<path class="s w2" d="M700 935 Q745 955 790 935 M745 905 V935"/>
<path class="s w2" d="M285 930 L640 935"/>
<!-- 21 -->
<ellipse cx="745" cy="1066" rx="113" ry="52" class="f w3"/>
<ellipse cx="745" cy="1066" rx="62" ry="28" class="f w3"/>
<path class="s w2" d="M745 1045 V1066 M285 1075 L628 1078"/>
<!-- 50 bearing -->
<path class="f w3" d="M618 1195 V1255 A122 55 0 0 0 862 1255 V1195Z"/>
<ellipse cx="740" cy="1195" rx="122" ry="56" class="f w3"/>
<ellipse cx="740" cy="1195" rx="96" ry="42" class="s" stroke-width="3.6"/>
<ellipse cx="740" cy="1195" rx="80" ry="33" class="s w2" stroke-dasharray="4 4"/>
<ellipse cx="740" cy="1195" rx="60" ry="25" class="f w3"/>
<ellipse cx="740" cy="1193" rx="42" ry="16" class="f w2"/>
<path class="s w2" d="M742 1170 V1200 M285 1252 H615"/>
<!-- 50 symbol -->
<rect x="1015" y="1168" width="135" height="124" class="k w2"/>
<path d="M1045 1185 h40 q30 35 0 75 h-40 q-12 -38 0 -75z M1060 1268 h50 v10 h-50z" fill="#fff"/>
<path d="M1062 1195 q25 25 0 55 q22 -5 26 -28 q-4 -22 -26 -27z" fill="#111"/>
<path class="s w3" d="M935 1168 H1015 M935 1292 H1015"/>
<path class="k w1" d="M930 1168 l18 -8 v16z M930 1292 l18 -8 v16z"/>
<path class="s w2" d="M880 1232 H945 M945 1218 V1246"/>
<!-- 23 lower -->
<path class="f w3" d="M638 1375 V1400 A100 46 0 0 0 838 1400 V1375Z"/>
<ellipse cx="738" cy="1374" rx="100" ry="46" class="f w3"/>
<ellipse cx="738" cy="1368" rx="52" ry="22" class="f w3"/>
<path class="s w2" d="M695 1382 Q738 1400 782 1382 M738 1350 V1380"/>
<path class="s w2" d="M300 1392 L635 1395"/>
</g>
<g transform="translate(200,960) scale(0.29087)">
<path class="s w1" d="M830 45 V310 M828 395 V512"/>
<path class="s w2" d="M705 132 V270 M700 395 V560 M698 742 V780 M453 410 V500 M453 650 V715 M820 735 V762"/>
<!-- 34 gasket -->
<path class="f w3" d="M470 218 Q560 180 700 162 L790 165 L800 180 L830 180 Q880 205 950 245 L950 272 L920 282 L905 318 Q800 365 700 382 L640 378 L625 360 L585 366 Q520 335 478 292 L460 272 L472 250Z"/>
<ellipse cx="700" cy="270" rx="215" ry="92" class="f w3" transform="rotate(-3 700 270)"/>
<path class="s w2" d="M285 270 L460 272 M705 170 V270"/>
<!-- 24 flange -->
<path class="f w3" d="M500 640 Q520 700 600 728 Q700 750 800 728 Q880 700 905 655 L900 560 L500 560Z"/>
<path class="f w3" d="M410 522 L470 492 L930 480 L1008 542 L1000 560 L940 590 L900 655 L640 692 L440 560Z"/>
<path class="s w3" d="M410 522 L425 545 L650 668 L940 575 L1000 545 M650 668 L640 692 M940 575 L945 590"/>
<ellipse cx="700" cy="505" rx="222" ry="108" class="f w3"/>
<ellipse cx="700" cy="510" rx="200" ry="92" class="f w3"/>
<ellipse cx="700" cy="520" rx="185" ry="80" class="s w2"/>
<path class="s w3" d="M515 540 Q560 600 700 610 Q840 600 885 540"/>
<ellipse cx="700" cy="545" rx="108" ry="48" class="f w3"/>
<ellipse cx="700" cy="565" rx="90" ry="34" class="f w3"/>
<ellipse cx="700" cy="578" rx="70" ry="24" fill="#444" stroke="#111" stroke-width="2" style="vector-effect:non-scaling-stroke"/>
<ellipse cx="700" cy="582" rx="40" ry="12" fill="#fff"/>
<ellipse cx="455" cy="520" rx="16" ry="9" class="f w2"/><ellipse cx="940" cy="550" rx="16" ry="9" class="f w2"/><ellipse cx="620" cy="640" rx="18" ry="9" class="f w2"/><ellipse cx="695" cy="655" rx="18" ry="9" class="k w2"/>
<ellipse cx="578" cy="512" rx="14" ry="8" class="f w2"/><ellipse cx="828" cy="512" rx="14" ry="8" class="f w2"/>
<path class="s w2" d="M270 525 L410 525"/>
<!-- 57 screw -->
<path class="f w3" d="M436 735 Q452 722 470 735 V832 H436Z"/>
<path class="s w2" d="M436 755 H470 M436 775 H470 M436 795 H470 M436 815 H470"/>
<path class="f w3" d="M412 838 Q450 818 490 838 L490 858 Q450 880 412 858Z"/>
<path class="s w2" d="M412 848 Q450 868 490 848 M270 792 H425"/>
<!-- 61 screw -->
<path class="f w3" d="M804 785 Q820 772 838 785 V918 H804Z"/>
<path class="s w2" d="M804 805 H838 M804 825 H838 M804 845 H838 M804 865 H838 M804 885 H838 M804 902 H838"/>
<path class="f w3" d="M782 925 Q820 905 860 925 L860 945 Q820 968 782 945Z"/>
<path class="s w2" d="M782 935 Q820 955 860 935 M860 857 H950"/>
<!-- 22 spindle -->
<path class="f w3" d="M672 790 Q700 770 728 790 V850 L745 862 V1040 L765 1065 V1195 L742 1215 V1325 Q700 1360 658 1325 V1215 L632 1195 V1065 L655 1040 V862 L672 850Z"/>
<path class="s w3" d="M672 850 H728 M655 1040 H745 M640 1065 H760 M632 1100 H765 M632 1195 H765 M658 1215 H742"/>
<path class="s w2" d="M660 1050 H742 M650 1080 V1190 M748 1080 V1190 M690 1100 V1195 M672 800 Q700 815 728 800"/>
<path class="s" stroke-width="2.4" d="M660 1235 H742 M660 1255 H742 M660 1275 H742 M660 1295 H742 M662 1315 H740"/>
<path class="s w2" d="M270 1035 L630 1040"/>
</g>
<!-- 20_switch.svg -->
<g transform="translate(660,1020) scale(0.17312)">
<path class="s w3" d="M215 215 H135 V490 L612 762 M40 375 H135"/>
<path class="s w2" d="M592 215 H682"/>
<path class="s w1" d="M730 320 V620 M1280 -40 V60 M1275 200 V640"/>
<path class="s" stroke-width="5.2" d="M1770 448 L1520 512 Q1470 515 1440 490 L1200 302 Q1150 265 1080 272 L560 402 Q490 430 500 480 Q510 515 600 545"/>
<path class="s" stroke-width="1.4" style="stroke:#fff" d="M1770 448 L1520 512 Q1470 515 1440 490 L1200 302 Q1150 265 1080 272 L560 402 Q490 430 500 480 Q510 515 600 545"/>
<path class="s" stroke-width="5.2" d="M1775 478 L1530 545 Q1475 548 1440 525 L1180 352 Q1140 330 1080 342 L690 432 Q625 455 640 492 Q655 520 740 548"/>
<path class="s" stroke-width="1.4" style="stroke:#fff" d="M1775 478 L1530 545 Q1475 548 1440 525 L1180 352 Q1140 330 1080 342 L690 432 Q625 455 640 492 Q655 520 740 548"/>
<path class="f w3" d="M1765 408 L2400 238 L2420 330 L1790 498 Q1760 455 1765 408Z"/>
<path class="s w3" d="M1790 410 Q1775 455 1800 495"/>
<path class="s" stroke-width="5.2" d="M1925 712 L1400 862 Q1320 880 1260 855 L1135 792"/>
<path class="s" stroke-width="1.4" style="stroke:#fff" d="M1925 712 L1400 862 Q1320 880 1260 855 L1135 792"/>
<path class="s" stroke-width="5.2" d="M2000 792 L1450 952 Q1350 972 1285 945 L1150 852"/>
<path class="s" stroke-width="1.4" style="stroke:#fff" d="M2000 792 L1450 952 Q1350 972 1285 945 L1150 852"/>
<path class="s" stroke-width="5.2" d="M165 772 L235 750 Q290 750 345 792 L530 893 L560 905 L1290 1300 Q1340 1345 1410 1340 L1740 1262 Q1815 1225 1800 1172 Q1790 1135 1600 1058"/>
<path class="s" stroke-width="1.4" style="stroke:#fff" d="M165 772 L235 750 Q290 750 345 792 L530 893 L560 905 L1290 1300 Q1340 1345 1410 1340 L1740 1262 Q1815 1225 1800 1172 Q1790 1135 1600 1058"/>
<path class="s" stroke-width="5.2" d="M100 727 L200 692 Q270 680 340 708 L545 845 L585 862 L1290 1250 Q1340 1278 1410 1270 L1590 1222 Q1650 1195 1640 1152 Q1625 1115 1505 1082"/>
<path class="s" stroke-width="1.4" style="stroke:#fff" d="M100 727 L200 692 Q270 680 340 708 L545 845 L585 862 L1290 1250 Q1340 1278 1410 1270 L1590 1222 Q1650 1195 1640 1152 Q1625 1115 1505 1082"/>
<path class="s" stroke-width="4.4" d="M55 742 L100 727 M125 784 L165 772 M1585 1050 L1620 1068 M1495 1076 L1525 1092"/>
<path class="s w1" stroke-dasharray="26 10" d="M-40 770 L55 745"/>
<path class="f w3" d="M505 838 Q540 810 580 838 L585 880 Q545 915 508 885Z"/>
<path class="s w2" d="M535 922 V1415"/>
<path class="s w1" stroke-dasharray="22 9" d="M790 640 L1130 850 M905 655 L1225 832 M1240 960 L1540 1030"/>
<path class="s w2" d="M1130 852 V930"/>
<path class="f w3" d="M622 792 L640 762 V612 L700 590 L1050 520 L1232 592 L1322 650 L1332 700 L1232 742 L1182 792 L1000 802 L792 852 L762 872 L712 862 L622 812Z"/>
<path class="s w3" d="M640 762 L712 800 L790 790 L880 760 L1180 740 L1232 700 L1322 660 M712 800 V860 M790 790 L792 850 M640 612 L720 640 L1050 560 L1232 640"/>
<path class="k w2" d="M640 612 h42 v150 h-42z"/><path d="M652 625 h18 v125 h-18z" fill="#fff"/>
<path class="k w1" d="M712 625 h40 v170 h-40z"/><path d="M722 660 h18 v130 h-18z" fill="#999"/>
<path class="k w1" d="M760 585 l38 -10 l22 12 v26 l-24 8 v-22 l-36 6z"/>
<path class="k w1" d="M830 560 l38 -10 l22 12 v26 l-24 8 v-22 l-36 6z"/>
<path class="k w1" d="M900 540 l38 -10 l22 12 v26 l-24 8 v-22 l-36 6z"/>
<path class="k w1" d="M960 522 l38 -10 l22 12 v26 l-24 8 v-22 l-36 6z"/>
<path class="k w1" d="M1020 515 l38 -10 l22 12 v26 l-24 8 v-22 l-36 6z"/>
<path class="k w1" d="M800 630 l38 -10 l22 12 v26 l-24 8 v-22 l-36 6z"/>
<path class="k w1" d="M870 615 l38 -10 l22 12 v26 l-24 8 v-22 l-36 6z"/>
<path class="k w1" d="M960 590 l38 -10 l22 12 v26 l-24 8 v-22 l-36 6z"/>
<path class="k w1" d="M1040 570 l38 -10 l22 12 v26 l-24 8 v-22 l-36 6z"/>
<path class="k w1" d="M1100 585 l38 -10 l22 12 v26 l-24 8 v-22 l-36 6z"/>
<path class="k w1" d="M1170 610 l38 -10 l22 12 v26 l-24 8 v-22 l-36 6z"/>
<path class="k w1" d="M1230 640 l38 -10 l22 12 v26 l-24 8 v-22 l-36 6z"/>
<path class="k w1" d="M1270 665 l38 -10 l22 12 v26 l-24 8 v-22 l-36 6z"/>
<path class="s w2" d="M760 700 L1180 720 M1140 640 L1200 720 M1180 600 L1250 700"/>
<path class="k w1" d="M760 720 L880 700 L1000 715 L1000 760 L880 765 L790 790Z" style="fill:#333"/>
<path class="s w3" d="M1232 700 L1322 660 L1332 700 L1232 742 M1260 690 l40 -18 M1270 715 l40 -18"/>
<path class="f w3" d="M892 800 L932 780 L1012 800 L1012 872 L950 892 L900 870Z"/>
<path class="k w1" d="M958 830 h44 v40 h-44z"/><path class="s w3" d="M932 780 V862 L950 892"/>
<path class="k w2" d="M712 225 H748 V312 H712Z"/>
<path class="k w2" d="M690 225 V185 Q730 140 775 185 V225Z"/><path d="M705 205 H760" stroke="#fff" stroke-width="8"/>
<path class="k w2" d="M1100 70 Q1120 40 1180 48 L1190 100 L1125 112 Q1095 100 1100 70Z"/><ellipse cx="1140" cy="80" rx="20" ry="12" fill="#fff"/>
<path class="f w3" d="M1180 82 L1262 60 L1332 130 L1322 166 L1252 176 L1200 140Z"/>
<ellipse cx="1288" cy="148" rx="30" ry="12" class="f w3"/>
<path class="s w2" d="M1342 110 H1465"/>
</g>
<g transform="translate(520,940) scale(0.30463)">
<path class="k w2" d="M1172 205 H1200 V256 H1172Z"/><path class="k w2" d="M1160 205 V180 Q1188 150 1218 180 V205Z"/><path d="M1170 192 H1208" stroke="#fff" stroke-width="5"/>
<path class="s w2" d="M1224 207 H1285 M1185 258 V300"/>
<path class="f w3" d="M140 738 Q145 715 165 718 L248 765 Q262 775 262 795 V1042 Q258 1065 240 1060 L152 1012 Q135 1000 135 985 V760Z"/>
<path class="f w3" d="M158 756 L212 785 Q228 800 222 815 Q214 825 200 818 L162 796 Q148 785 150 770Z"/>
<circle cx="232" cy="850" r="9" class="f w3"/><path class="s w3" d="M166 944 q-12 4 -6 14"/>
<path class="s w2" d="M208 1062 V1235 M95 885 L228 852"/>
<path class="f w3" style="fill:#666" d="M298 832 L360 812 L366 838 L306 852 L292 845Z"/><path class="s w2" d="M310 828 l5 20 M322 824 l5 20 M334 820 l5 20 M346 816 l5 20"/><path class="f w3" d="M360 796 L392 790 L402 806 L400 826 L370 842 L360 826Z"/><path class="s w2" d="M378 793 L384 834"/>
<path class="s w2" d="M360 862 V1190"/>
<path class="f w3" d="M340 702 Q348 678 372 684 L450 716 Q478 735 474 768 Q468 792 442 784 L360 750 Q335 735 340 702Z"/>
<path class="s" stroke-width="4.6" d="M368 680 L452 715 Q480 736 474 770"/><path class="s w3" d="M352 700 Q360 690 376 696 L446 728 Q462 742 458 762"/>
<ellipse cx="370" cy="718" rx="9" ry="13" class="f w3" transform="rotate(20 370 718)"/>
<ellipse cx="395" cy="730" rx="9" ry="13" class="f w3" transform="rotate(20 395 730)"/>
<ellipse cx="420" cy="742" rx="9" ry="13" class="f w3" transform="rotate(20 420 742)"/>
<ellipse cx="444" cy="754" rx="9" ry="13" class="f w3" transform="rotate(20 444 754)"/>
<path class="s w2" d="M468 792 V1140 M345 740 L360 762 M338 720 L345 748"/>
</g>
<!-- 21_cable.svg -->
<g transform="translate(940,840) scale(0.30463)">
<!-- wires into part 11 -->
<path class="s" stroke-width="5.2" d="M-20 1058 L165 1002 M-20 1092 L240 1042"/>
<path class="s" stroke-width="1.4" style="stroke:#fff" d="M-20 1058 L165 1002 M-20 1092 L240 1042"/>
<!-- part 11 block -->
<path class="f w3" d="M160 985 L300 950 L400 985 L400 1015 L258 1058 L160 1012Z"/>
<path class="s w3" d="M160 985 L260 1026 L400 985 M260 1026 L258 1058"/>
<path class="s w2" d="M412 990 L478 1030 Q488 1060 485 1120"/>
<!-- hook 603 -->
<path class="f w3" d="M190 742 Q185 690 225 676 Q262 672 278 720 L352 1060 L356 1096 L322 1102 L285 1090 L282 1078 L312 1082 L240 745 Q232 712 215 722 Q208 735 212 745Z"/>
<path class="s w2" d="M283 480 V680"/>
<!-- cable through disc -->
<!-- disc 15 -->
<path class="f w3" d="M385 645 L425 640 Q485 680 482 770 Q475 860 420 885 L385 885Z"/>
<ellipse cx="385" cy="765" rx="66" ry="120" class="f w3" transform="rotate(-5 385 765)"/>
<path class="f w3" d="M325 770 L378 755 Q392 765 385 795 L335 812Z"/>
<ellipse cx="382" cy="775" rx="12" ry="22" class="f w2"/>
<path class="s w2" d="M482 842 L620 925 V1080"/>
<!-- sleeve 6 nut -->
<path class="f w3" d="M470 665 L540 642 L562 700 L556 790 L500 812 L472 782Z"/>
<path class="s w3" d="M500 660 L512 720 L500 812 M512 720 L560 705"/>
<ellipse cx="485" cy="735" rx="14" ry="40" class="f w2"/>
<!-- ribs -->
<path class="f w3" d="M540 650 L620 630 Q640 690 622 762 L556 785Z"/>
<path class="s w3" d="M565 645 Q585 700 572 780 M590 638 Q610 700 596 772"/>
<!-- taper -->
<path class="f w3" d="M600 640 Q660 640 700 632 L1040 560 L1075 610 L700 742 Q660 755 622 762 Q640 700 600 640Z"/>
<path class="s w1" d="M710 640 L715 655"/>
<!-- ring -->
<path class="f w3" d="M1038 552 Q1060 540 1075 548 Q1090 590 1080 628 Q1062 636 1048 630 Q1030 590 1038 552Z"/>
<path class="s w3" d="M1052 548 Q1070 590 1060 632"/>
<!-- cable -->
<path class="f w3" d="M1078 566 L1212 524 Q1228 540 1220 560 L1082 602Z"/>
<ellipse cx="1215" cy="542" rx="8" ry="18" class="f w2"/>
<path class="s w2" d="M900 682 V990"/>
<path class="s w1" d="M1228 540 L1362 505"/>
<!-- earth leader + connector -->
<path class="s w2" d="M582 500 L662 480"/>
<path class="s" stroke-width="2.6" d="M715 432 L835 400 M690 466 L850 426 M742 482 L880 446 M762 462 L832 442 M700 440 L740 430"/>
<path class="f w3" d="M820 402 L950 350 L1035 400 L1030 432 L900 472 L880 455Z"/>
<path class="s w3" d="M820 402 L900 440 L1035 400 M900 440 V472"/>
<path class="k w1" d="M826 420 l30 -8 v14 l-30 8z M680 462 l30 -7 v10 l-30 7z"/>
<!-- gasket 18 -->
<path class="f w3" d="M1255 368 Q1270 340 1295 348 L1400 400 Q1422 415 1420 440 V700 Q1415 722 1392 718 L1290 665 Q1260 650 1260 620Z"/>
<path class="f w3" d="M1285 398 Q1292 382 1305 388 L1380 426 Q1392 435 1390 450 V662 Q1386 682 1372 678 L1300 640 Q1285 630 1285 615Z"/>
<path class="s w2" d="M1268 380 Q1280 365 1298 372 L1395 420 Q1408 432 1405 448 M1300 640 L1310 660 L1375 695"/>
<path class="s w2" d="M1355 725 V890 M1540 662 V880"/>
</g>
<!-- 22_handle.svg -->
<g transform="translate(1360,860) scale(0.16623)">
<path class="s w2" d="M700 10 V130 M562 215 L492 240 L486 290 L440 302 M290 1090 V1460"/>
<path class="s w1" d="M95 780 L375 710 M115 385 L190 365 M950 800 V990"/>
<path class="f w3" d="M520 340 L1560 180 Q1650 185 1720 250 Q1755 320 1745 420 L1722 580 L1662 602 L1600 578 L850 790 Q740 860 650 960 L600 1080 L500 700Z"/>
<path class="s w3" d="M620 492 L1280 382 L1690 312 Q1725 400 1690 480 L1620 560 L1600 578 M1690 312 L1720 250 M1690 480 L1722 580"/>
<path class="s w2" d="M1670 440 Q1690 500 1680 545"/>
<path class="s w2" stroke-dasharray="230 30 8 30" d="M1270 326 L1560 292"/>
<path class="s w1" stroke-dasharray="6 100" d="M820 440 L1040 385"/>
<path class="s w2" d="M620 560 l40 -30 M628 610 l45 -35 M636 660 l48 -38 M644 710 l50 -40 M652 760 l50 -40 M660 810 l48 -38 M668 860 l40 -32 M672 905 l30 -25"/>
<text x="668" y="560" font-size="52" font-weight="bold" transform="rotate(-10 668 560)">1</text><text x="745" y="540" font-size="52" font-weight="bold" transform="rotate(-10 745 540)">0</text>
<path class="f w3" d="M690 600 L822 560 L862 580 L872 640 L842 652 L832 602 L702 638Z"/>
<path class="s w3" d="M700 615 L825 578 M705 650 L830 618 M832 602 L822 560"/>
<path class="f w3" d="M700 650 L835 620 L845 700 L720 740Z"/>
<circle cx="780" cy="765" r="72" class="f w4"/><circle cx="785" cy="768" r="50" class="f w3"/><path class="k w1" d="M720 730 q-20 40 10 80 l20 -15 q-18 -25 -8 -52z"/><path class="s w3" d="M760 735 L810 800 M815 740 L770 800"/>
<path class="f w3" d="M160 265 L262 235 L492 385 Q545 450 562 520 L622 800 L642 960 L600 1082 L470 1162 L200 1002 L100 730 L110 560Z"/>
<path class="s w3" d="M215 278 L252 266 L470 410 Q520 470 532 532 L590 800 L602 950 L570 1052 L470 1122 L215 988 M470 1162 L470 1122 M215 988 L200 1002 M160 265 L215 278"/>
<path class="s w3" d="M250 330 L432 432 L442 442 L446 1002 L292 926 L250 900Z"/>
<path class="s w2" d="M292 926 L372 900 L446 790 M300 830 V926 M270 345 L420 435"/>
<path class="s" stroke-width="3.2" d="M240 430 L165 460 L240 482 L165 512 L240 534 L165 564 L240 586 L165 616 L240 638 L165 668 L240 690 L165 720 L240 742 L165 772 L240 794 L165 824 L240 846 L165 876 L240 898"/>
<path class="s w2" d="M150 420 L120 700 L200 930 M245 330 V900"/>
<path class="s" stroke-width="3.4" d="M452 520 L548 558 L456 576 L548 612 L456 630 L548 666 L456 684 L548 720 L456 738 L548 774 L456 792 L548 828 L456 846 L548 882 L456 900 L548 936 L456 954 L548 990 L456 1008"/>
<path class="s w3" d="M560 560 L600 1000"/>
<circle cx="188" cy="340" r="30" class="f w3"/><circle cx="440" cy="472" r="36" class="f w3"/><circle cx="448" cy="480" r="20" class="s w2"/><circle cx="196" cy="910" r="26" class="f w3"/><circle cx="462" cy="1086" r="26" class="f w3"/>
<path class="k w2" d="M570 190 L832 150 L838 185 L578 222 Q555 210 570 190Z"/>
<path d="M600 200 l225 -32" stroke="#fff" stroke-width="5" stroke-dasharray="10 12" fill="none"/>
<path class="f w3" d="M825 118 L880 105 L898 140 L890 188 L840 200 L822 165Z"/><path class="s w3" d="M850 112 L858 196 M870 108 L878 192"/>
<ellipse cx="950" cy="1026" rx="60" ry="28" class="k w2"/><ellipse cx="950" cy="1024" rx="32" ry="11" fill="#fff"/>
<path class="s w2" d="M888 1042 L722 1090 Q700 1100 700 1120 V1180"/>
<path class="k w2" d="M940 1085 L975 1120 V1205 H910 V1120Z"/><path d="M915 1135 H972 M915 1160 H972 M915 1185 H972" stroke="#fff" stroke-width="7" fill="none"/>
<path class="f w3" d="M895 1215 Q950 1195 1002 1215 L1002 1262 Q950 1290 895 1262Z"/><path class="s w3" d="M895 1238 Q950 1260 1002 1238 M925 1225 L975 1225"/>
<path class="s w2" d="M940 1290 V1375 Q935 1395 900 1400 L772 1425"/>
<path class="s w2" d="M850 800 L1172 980 M1322 1082 L1520 1180"/>
<circle cx="1250" cy="1030" r="92" class="k w2"/>
<circle cx="1250" cy="1030" r="82" fill="none" stroke="#fff" stroke-width="10" stroke-dasharray="8 10"/>
<circle cx="1258" cy="1040" r="50" class="f w3"/><path class="s w3" d="M1225 1005 L1290 1075 M1295 1005 L1222 1075"/><path class="k w1" d="M1215 1040 q5 -30 35 -40 l-10 45z"/>
<path class="k w2" d="M1510 1175 L1595 1225 L1580 1255 L1500 1205Z"/>
<path class="f w3" d="M1585 1250 Q1600 1215 1640 1225 L1700 1290 Q1690 1340 1640 1352 Q1590 1330 1585 1250Z"/>
<path class="f w3" d="M1648 1030 Q1700 995 1760 1035 L1772 1300 Q1740 1345 1690 1335 Q1655 1320 1650 1290Z"/>
<path class="s" stroke-width="3.6" d="M1675 1050 L1690 1300 M1740 1050 L1750 1300"/>
<path class="k w1" d="M1690 1300 Q1730 1330 1770 1300 L1760 1330 Q1730 1350 1692 1332Z M1660 1030 Q1700 1000 1755 1032 L1750 1050 Q1700 1020 1668 1050Z"/>
</g>
<g transform="translate(1360,780) scale(0.27706)">
<path class="s w3" d="M695 950 V1255 H1035 V1100 M905 990 V1255 M825 1255 V1290"/>
<path class="s w3" d="M1590 215 V492 M1500 582 V522 L1720 466 V526"/>
<path class="s w1" d="M1050 490 L1085 480"/>
<path class="f w3" d="M1095 455 L1550 332 Q1640 305 1722 332 Q1800 385 1830 470 Q1835 540 1780 580 L1722 592 L1705 562 L1750 555 Q1790 525 1788 490 Q1760 420 1700 372 Q1640 345 1565 370 L1098 496 Q1082 476 1095 455Z"/>
<path d="M1585 350 Q1650 325 1712 352 Q1785 405 1810 480 Q1812 535 1765 568" fill="none" stroke="#111" stroke-width="24" stroke-dasharray="4 8" style="opacity:.8"/>
<ellipse cx="1096" cy="476" rx="9" ry="20" class="f w2"/>
<path class="f w3" d="M1330 625 Q1380 615 1420 622 L1600 566 L1692 560 L1695 592 L1622 612 L1440 672 Q1410 700 1400 740 L1340 790 L1290 780Z"/>
<path class="s w3" d="M1600 566 L1606 600 M1625 560 L1630 596 M1655 558 L1660 592 M1380 660 Q1400 640 1440 640 M1370 700 L1400 690"/>
<path class="f w3" d="M1240 600 Q1285 590 1320 620 Q1350 680 1340 760 Q1320 800 1285 795 L1250 780Z"/>
<ellipse cx="1262" cy="695" rx="52" ry="98" class="f w3" transform="rotate(-10 1262 695)"/>
<path class="f w2" d="M1232 610 l25 -10 l6 22 l-24 10z M1268 770 l25 -8 l4 22 l-22 8z"/>
<path class="f w3" d="M1150 678 L1236 655 Q1246 668 1240 682 L1154 706 Q1135 695 1150 678Z M1212 728 L1296 705 Q1306 718 1300 732 L1216 756 Q1198 745 1212 728Z"/>
<path class="s w2" d="M1385 1010 L1430 1003 M1497 984 L1545 940"/>
<path class="f w3" d="M1432 992 L1488 970 Q1502 980 1496 994 L1440 1016 Q1425 1008 1432 992Z"/>
<path class="s" stroke-width="5" d="M1545 940 L1640 900 M1520 872 L1640 882"/>
<path class="f w3" d="M1640 860 L1830 805 Q1845 818 1838 832 L1652 902Z"/><path class="s w2" d="M1645 882 L1835 820 M1600 880 L1650 870"/>
</g>
<!-- 23_strap.svg -->
<g transform="translate(980,220) scale(0.25465)">
<path class="s w2" d="M705 645 V940 M1110 522 V738 M470 935 L562 992"/>
<path class="s w1" d="M540 1038 L760 985"/>
<!-- strap -->
<path class="s" stroke-width="5" d="M735 990 L610 930 Q580 905 600 882 L640 868 L1750 580"/>
<path class="s" stroke-width="1.7" style="stroke:#fff" stroke-dasharray="6 13" d="M640 868 L1750 580"/>
<path class="s" stroke-width="1.4" style="stroke:#fff" d="M720 978 L615 925 Q598 905 612 890"/>
<path class="s w2" d="M1750 580 L1832 556"/>
<!-- ring terminal -->
<ellipse cx="722" cy="1000" rx="24" ry="38" class="f w3" transform="rotate(-20 722 1000)"/>
<path class="s w2" d="M712 985 q-8 15 2 32"/>
<!-- 91 lock washer -->
<ellipse cx="588" cy="1035" rx="17" ry="30" class="f w3" transform="rotate(-15 588 1035)"/>
<ellipse cx="582" cy="1030" rx="8" ry="18" class="s w2" transform="rotate(-15 582 1030)"/>
</g>
<!-- 90_labels.svg -->
<g id="labels">
<text x="92.0" y="89.0" class="" font-size="22.3" textLength="198">0 601 332 403 / 803</text>
<text x="93.0" y="117.0" class="" font-size="22.3" textLength="57">Stand</text>
<text x="93.0" y="144.0" class="" font-size="22.3" textLength="53">Issue</text>
<text x="183.0" y="117.0" class="" font-size="22.3" textLength="58">94-09</text>
<text x="183.0" y="144.0" class="" font-size="22.3" textLength="90">98-09-29</text>
<path class="x" d="M180 100 L244 116 M183 117 L246 101" stroke-width="1.4"/>
<path d="M158 100 q7 1 7 7 v5 q0 6 7 7 q-7 1 -7 7 v-1" class="s w2" />
<path d="M158 143 q7 -1 7 -7 v-6 q0 -5 6 -6" class="s w2" />
<rect x="288" y="106.5" width="172.5" height="37" fill="#0a0a0a"/>
<text x="293" y="133.5" font-size="31" font-weight="bold" style="fill:#fff" textLength="162" lengthAdjust="spacingAndGlyphs">Fig./Abb. 1</text>
<text x="349.5" y="275.5" class="b">813</text>
<text x="179.5" y="383.5" class="b">807</text>
<text x="481.5" y="361.5" class="b">59</text>
<text x="619.5" y="571.0" class="b">32</text>
<text x="667.5" y="559.0" class="b">28</text>
<text x="716.5" y="548.5" class="b">52</text>
<text x="771.5" y="536.0" class="b">40</text>
<text x="822.0" y="523.5" class="b">30</text>
<text x="249.0" y="650.0" class="b">27</text>
<text x="229.5" y="698.0" class="b">100</text>
<text x="228.0" y="756.5" class="b">802</text>
<text x="245.0" y="824.5" class="b">20</text>
<text x="245.0" y="869.0" class="b">23</text>
<text x="247.0" y="906.5" class="b">21</text>
<text x="245.0" y="957.5" class="b">50</text>
<text x="245.0" y="996.5" class="b">23</text>
<text x="244.0" y="1050.5" class="b">34</text>
<text x="227.5" y="1153.5" class="b">817</text>
<text x="241.0" y="1201.5" class="b">57</text>
<text x="477.0" y="1220.0" class="b">61</text>
<text x="241.0" y="1270.0" class="b">22</text>
<text x="490.0" y="744.5" class="b">62</text>
<text x="537.0" y="729.5" class="b">803</text>
<text x="1245.5" y="325.5" class="b">801</text>
<text x="1114.0" y="377.5" class="b">801/2</text>
<text x="1074.5" y="455.5" class="b">91</text>
<text x="1583.0" y="134.0" class="b">58</text>
<text x="1583.0" y="181.0" class="b">41</text>
<text x="1584.5" y="221.5" class="b">54</text>
<text x="1582.0" y="303.0" class="b">800</text>
<text x="1582.0" y="343.0" class="b">16</text>
<text x="1580.5" y="375.5" class="b">31</text>
<text x="1580.5" y="416.0" class="b">9</text>
<text x="1836.0" y="253.5" class="b">69</text>
<text x="1831.5" y="395.5" class="b">35</text>
<text x="1022.0" y="557.0" class="b">63</text>
<text x="1282.0" y="531.5" class="b">45</text>
<text x="1305.5" y="790.5" class="b">2</text>
<text x="1132.5" y="835.0" class="b">29</text>
<text x="993.5" y="869.5" class="b">53</text>
<text x="1045.0" y="857.0" class="b">36</text>
<text x="1537.0" y="730.5" class="b">1</text>
<text x="1443.5" y="755.5" class="b">2/8</text>
<text x="1543.0" y="771.5" class="b">888</text>
<text x="1766.5" y="695.5" class="b">9</text>
<text x="809.0" y="938.5" class="b">830</text>
<text x="983.0" y="978.5" class="b">603</text>
<text x="1759.5" y="805.5" class="b">835</text>
<text x="1792.5" y="835.5" class="b">5</text>
<text x="1458.0" y="856.5" class="b">60</text>
<text x="616.5" y="1066.0" class="b">831</text>
<text x="699.5" y="1066.0" class="b">4/10</text>
<text x="916.5" y="1014.5" class="b">66</text>
<text x="916.5" y="1051.5" class="b">7</text>
<text x="735.5" y="1293.5" class="b">603</text>
<text x="565.5" y="1339.5" class="b">17</text>
<text x="610.5" y="1330.0" class="b">69</text>
<text x="654.5" y="1315.5" class="b">25</text>
<text x="1073.0" y="1210.0" class="b">11</text>
<text x="1120.0" y="1196.5" class="b">15</text>
<text x="1205.5" y="1171.0" class="b">6</text>
<text x="1332.0" y="1140.0" class="b">18</text>
<text x="1393.0" y="1128.0" class="b">42</text>
<text x="1452.0" y="1079.5" class="b">56</text>
<text x="1450.5" y="1111.5" class="b">55</text>
<text x="1540.5" y="1088.0" class="b">19/8</text>
<text x="1560.0" y="1117.0" class="b">19/10</text>
<text x="1575.0" y="1160.0" class="b">19</text>
<text x="1697.5" y="1074.0" class="b">150</text>
<text x="275.0" y="322.0" class="sb" textLength="46" lengthAdjust="spacingAndGlyphs">101</text>
<path class="x" d="M271.0 303.0 L325.0 319.0 M271.0 319.0 L325.0 303.0"/>
<text x="318.0" y="347.0" class="sb" textLength="47" lengthAdjust="spacingAndGlyphs">102</text>
<path class="x" d="M314.0 328.0 L369.0 344.0 M314.0 344.0 L369.0 328.0"/>
<text x="380.0" y="380.0" class="sb" textLength="47" lengthAdjust="spacingAndGlyphs">103</text>
<path class="x" d="M376.0 361.0 L431.0 377.0 M376.0 377.0 L431.0 361.0"/>
<text x="285.0" y="455.5" class="sb" textLength="48" lengthAdjust="spacingAndGlyphs">104</text>
<path class="x" d="M281.0 436.5 L337.0 452.5 M281.0 452.5 L337.0 436.5"/>
<text x="285.0" y="529.5" class="sb" textLength="32" lengthAdjust="spacingAndGlyphs">26</text>
<path class="x" d="M281.0 510.5 L321.0 526.5 M281.0 526.5 L321.0 510.5"/>
<text x="1247.0" y="351.0" class="sb" textLength="31" lengthAdjust="spacingAndGlyphs">33</text>
<path class="x" d="M1243.0 332.0 L1282.0 348.0 M1243.0 348.0 L1282.0 332.0"/>
<text x="1600.0" y="248.5" class="sb" textLength="29" lengthAdjust="spacingAndGlyphs">37</text>
<path class="x" d="M1596.0 229.5 L1633.0 245.5 M1596.0 245.5 L1633.0 229.5"/>
<text x="1600.0" y="277.0" class="sb" textLength="29" lengthAdjust="spacingAndGlyphs">10</text>
<path class="x" d="M1596.0 258.0 L1633.0 274.0 M1596.0 274.0 L1633.0 258.0"/>
<text x="1577.0" y="743.0" class="sb" textLength="15" lengthAdjust="spacingAndGlyphs">8</text>
<path class="x" d="M1573.0 724.0 L1596.0 740.0 M1573.0 740.0 L1596.0 724.0"/>
<text x="843.0" y="910.0" class="sb" textLength="15" lengthAdjust="spacingAndGlyphs">8</text>
<path class="x" d="M839.0 891.0 L862.0 907.0 M839.0 907.0 L862.0 891.0"/>
<text x="245.0" y="1124.0" class="sb" textLength="32" lengthAdjust="spacingAndGlyphs">24</text>
<path class="x" d="M241.0 1105.0 L281.0 1121.0 M241.0 1121.0 L281.0 1105.0"/>
<text x="650.0" y="1092.0" class="sb" textLength="14" lengthAdjust="spacingAndGlyphs">4</text>
<path class="x" d="M646.0 1073.0 L668.0 1089.0 M646.0 1089.0 L668.0 1073.0"/>
<text x="1025.3" y="273.0" class="" font-size="17.5" font-weight="bold" stroke="#111" stroke-width="0.45" textLength="141" lengthAdjust="spacingAndGlyphs">Alte Ausführung</text>
<text x="1025.3" y="292.1" class="" font-size="17.5" font-weight="bold" stroke="#111" stroke-width="0.45" textLength="124" lengthAdjust="spacingAndGlyphs">Old Execution</text>
<text x="1025.3" y="311.2" class="" font-size="17.5" font-weight="bold" stroke="#111" stroke-width="0.45" textLength="153" lengthAdjust="spacingAndGlyphs">Ancien Exécution</text>
<text x="1025.3" y="330.3" class="" font-size="17.5" font-weight="bold" stroke="#111" stroke-width="0.45" textLength="134" lengthAdjust="spacingAndGlyphs">Vieja Ejecución</text>
<text x="1094.7" y="876.6" class="" font-size="17.5" font-weight="bold" stroke="#111" stroke-width="0.45" textLength="141" lengthAdjust="spacingAndGlyphs">Alte Ausführung</text>
<text x="1094.7" y="895.9" class="" font-size="17.5" font-weight="bold" stroke="#111" stroke-width="0.45" textLength="124" lengthAdjust="spacingAndGlyphs">Old Execution</text>
<text x="1094.7" y="915.2" class="" font-size="17.5" font-weight="bold" stroke="#111" stroke-width="0.45" textLength="153" lengthAdjust="spacingAndGlyphs">Ancien Exécution</text>
<text x="1094.7" y="934.5" class="" font-size="17.5" font-weight="bold" stroke="#111" stroke-width="0.45" textLength="134" lengthAdjust="spacingAndGlyphs">Vieja Ejecución</text>
<text x="1028.0" y="410.5" class="" font-size="20" font-weight="bold">Typ ..</text>
<text x="1080.5" y="410.5" class="" font-size="21.5">436</text>
<path class="s w2" d="M1023 417.5 H1122 M1089 418 V430"/>
<text x="1716.0" y="1106.5" class="" font-size="19" font-weight="bold" textLength="57">Typ . .</text>
<text x="1777.0" y="1106.5" class="" font-size="20" textLength="79" lengthAdjust="spacingAndGlyphs">441;442</text>
<text x="1508.5" y="1224.3" class="" font-size="21.5" textLength="243" lengthAdjust="spacingAndGlyphs">Änderungen vorbehalten</text>
<text x="1508.5" y="1250.0" class="" font-size="21.5" textLength="222" lengthAdjust="spacingAndGlyphs">Modifications reserved</text>
<text x="1508.5" y="1276.0" class="" font-size="21.5" textLength="233.5" lengthAdjust="spacingAndGlyphs">Modifications reservees</text>
<text x="1508.5" y="1302.2" class="" font-size="21.5" textLength="208" lengthAdjust="spacingAndGlyphs">Salvo modificaciones</text>
<text x="1509.8" y="1334.8" class="" font-size="21.5" font-weight="bold" textLength="217.5" lengthAdjust="spacingAndGlyphs">Robert Bosch GmbH</text>
<text x="1509.8" y="1361.0" class="" font-size="21.5" font-weight="bold" textLength="382" lengthAdjust="spacingAndGlyphs">Geschäftsbereich Elektrowerkzeuge</text>
<text x="1509.8" y="1387.0" class="" font-size="21.5" font-weight="bold" textLength="329" lengthAdjust="spacingAndGlyphs">70745 Leinfelden-Echterdingen</text>
<circle cx="1477.0" cy="537.0" r="13.7" class="f" stroke-width="2"/>
<text x="1477.0" y="544.0" text-anchor="middle" font-size="24" font-weight="bold">e</text>
<circle cx="1492.5" cy="618.0" r="13.7" class="f" stroke-width="2"/>
<text x="1492.5" y="626.0" text-anchor="middle" font-size="24" font-weight="bold">f</text>
<circle cx="1485.0" cy="669.5" r="13.7" class="f" stroke-width="2"/>
<text x="1485.0" y="676.5" text-anchor="middle" font-size="24" font-weight="bold">x</text>
<circle cx="847.5" cy="1192.2" r="12.8" class="f" stroke-width="2"/>
<text x="847.5" y="1199.2" text-anchor="middle" font-size="23" font-weight="bold">e</text>
<circle cx="881.0" cy="1208.0" r="12.8" class="f" stroke-width="2"/>
<text x="881.0" y="1216.0" text-anchor="middle" font-size="23" font-weight="bold">f</text>
<circle cx="1501.8" cy="188.0" r="19.3" class="f" stroke-width="2.4"/>
<text x="1501.8" y="199.0" text-anchor="middle" font-size="31" font-weight="bold" stroke="#111" stroke-width="1.2">X</text>
<circle cx="1798.6" cy="291.6" r="17.6" class="f" stroke-width="2.4"/>
<text x="1798.6" y="301.6" text-anchor="middle" font-size="28" font-weight="bold" stroke="#111" stroke-width="1.2">X</text>
<circle cx="1326.8" cy="362.1" r="17.8" class="f w2"/>
<path class="s w2" d="M1326.8 349.6 V363.9 M1315.8 363.9 H1337.8 M1319.7 368.9 H1333.9 M1323.6 373.8 H1330.0"/>
<circle cx="1097.8" cy="995.4" r="17.4" class="f w2"/>
<path class="s w2" d="M1097.8 983.2 V997.1 M1087.0 997.1 H1108.6 M1090.8 1002.0 H1104.8 M1094.7 1006.9 H1100.9"/>
</g>
</svg>
</body></html>
